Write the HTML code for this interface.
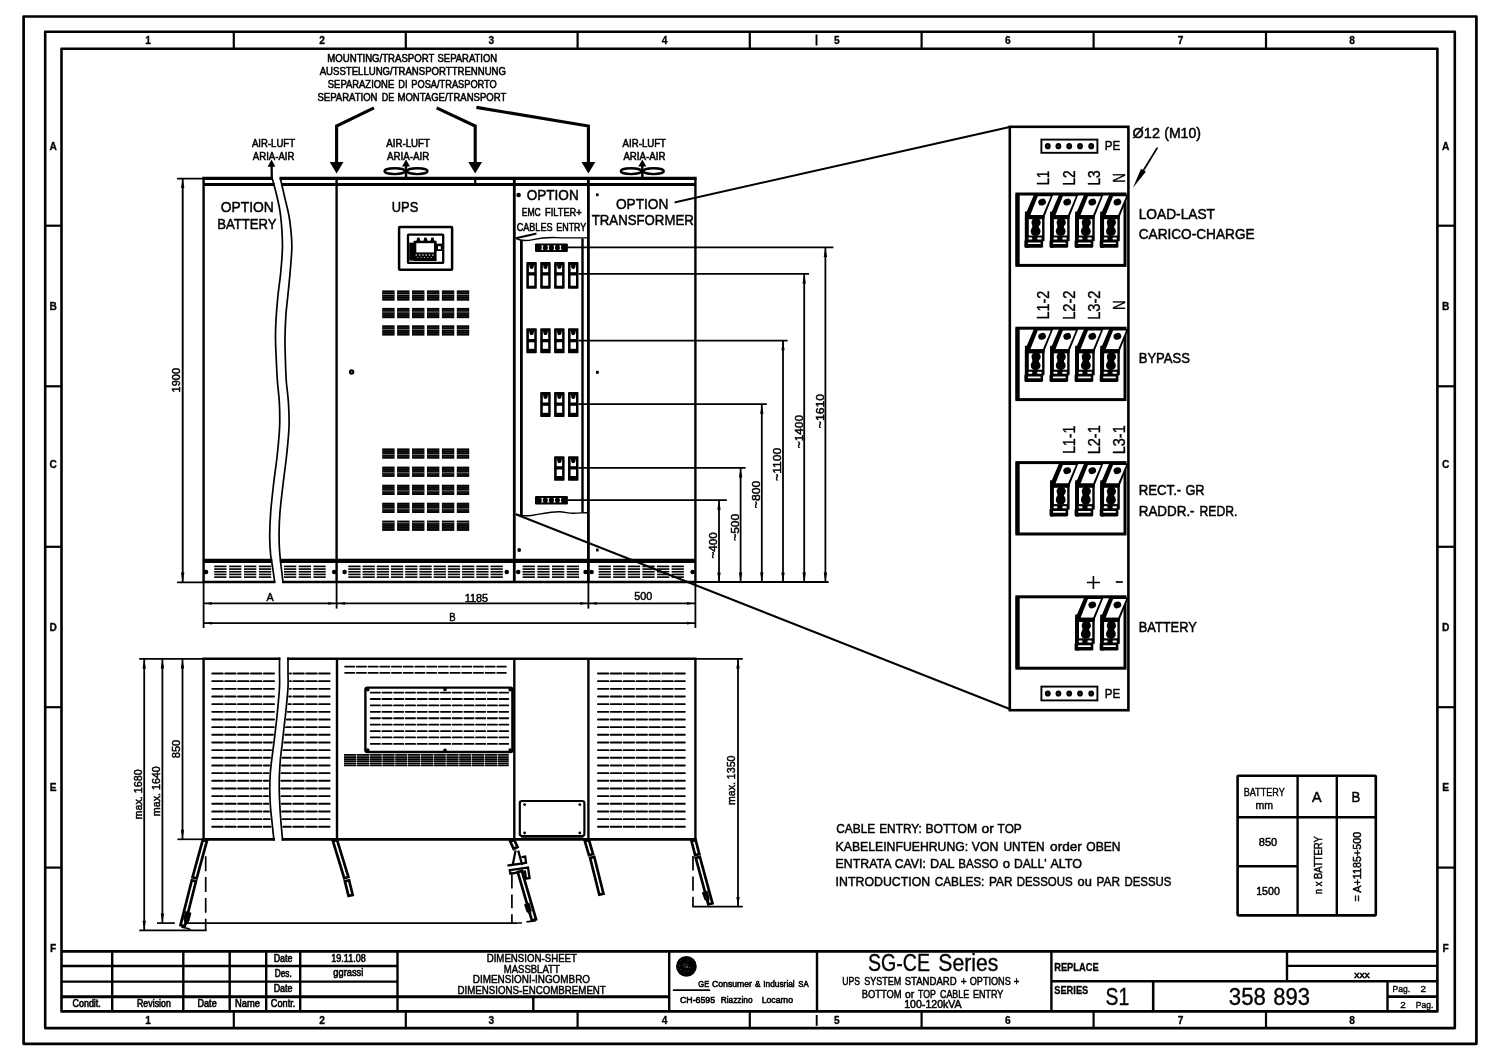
<!DOCTYPE html>
<html lang="en">
<head>
<meta charset="utf-8">
<title>SG-CE Series - Dimension sheet 358 893</title>
<style>
html,body{margin:0;padding:0;background:#fff;}
body{width:1500px;height:1060px;overflow:hidden;}
svg{display:block;will-change:transform;}
svg text{font-family:"Liberation Sans",sans-serif;fill:#000;}
</style>
</head>
<body>
<svg width="1500" height="1060" viewBox="0 0 1500 1060" fill="none" stroke="#000" stroke-linecap="butt" stroke-linejoin="miter">
<rect x="0" y="0" width="1500" height="1060" fill="#fff" stroke="none"/>
<g id="frame" stroke-linejoin="round">
<rect x="23.6" y="16.5" width="1452.8" height="1027.3" fill="none" stroke-width="2.7"/>
<rect x="45.2" y="31.8" width="1409.6" height="996.3" fill="none" stroke-width="2.6"/>
<rect x="61.5" y="48.7" width="1375.9" height="962.7" fill="none" stroke-width="2.6"/>
<line x1="233.8" y1="31.9" x2="233.8" y2="48.8" stroke-width="2.2"/>
<line x1="233.8" y1="1011.4" x2="233.8" y2="1028.1" stroke-width="2.2"/>
<line x1="405.8" y1="31.9" x2="405.8" y2="48.8" stroke-width="2.2"/>
<line x1="405.8" y1="1011.4" x2="405.8" y2="1028.1" stroke-width="2.2"/>
<line x1="577.6" y1="31.9" x2="577.6" y2="48.8" stroke-width="2.2"/>
<line x1="577.6" y1="1011.4" x2="577.6" y2="1028.1" stroke-width="2.2"/>
<line x1="749.8" y1="31.9" x2="749.8" y2="48.8" stroke-width="2.2"/>
<line x1="749.8" y1="1011.4" x2="749.8" y2="1028.1" stroke-width="2.2"/>
<line x1="921.6" y1="31.9" x2="921.6" y2="48.8" stroke-width="2.2"/>
<line x1="921.6" y1="1011.4" x2="921.6" y2="1028.1" stroke-width="2.2"/>
<line x1="1093.6" y1="31.9" x2="1093.6" y2="48.8" stroke-width="2.2"/>
<line x1="1093.6" y1="1011.4" x2="1093.6" y2="1028.1" stroke-width="2.2"/>
<line x1="1266" y1="31.9" x2="1266" y2="48.8" stroke-width="2.2"/>
<line x1="1266" y1="1011.4" x2="1266" y2="1028.1" stroke-width="2.2"/>
<line x1="816.5" y1="34.5" x2="816.5" y2="45.5" stroke-width="1.9"/>
<line x1="816.7" y1="1015" x2="816.7" y2="1025.8" stroke-width="1.9"/>
<line x1="45.2" y1="225.7" x2="61.5" y2="225.7" stroke-width="2.2"/>
<line x1="1437.4" y1="225.7" x2="1454.8" y2="225.7" stroke-width="2.2"/>
<line x1="45.2" y1="386.3" x2="61.5" y2="386.3" stroke-width="2.2"/>
<line x1="1437.4" y1="386.3" x2="1454.8" y2="386.3" stroke-width="2.2"/>
<line x1="45.2" y1="546.8" x2="61.5" y2="546.8" stroke-width="2.2"/>
<line x1="1437.4" y1="546.8" x2="1454.8" y2="546.8" stroke-width="2.2"/>
<line x1="45.2" y1="707.2" x2="61.5" y2="707.2" stroke-width="2.2"/>
<line x1="1437.4" y1="707.2" x2="1454.8" y2="707.2" stroke-width="2.2"/>
<line x1="45.2" y1="867.6" x2="61.5" y2="867.6" stroke-width="2.2"/>
<line x1="1437.4" y1="867.6" x2="1454.8" y2="867.6" stroke-width="2.2"/>
<text x="148.2" y="44.2" font-size="10.2" text-anchor="middle" font-weight="bold" stroke="#000" stroke-width="0.3">1</text>
<text x="148.2" y="1024.1" font-size="10.2" text-anchor="middle" font-weight="bold" stroke="#000" stroke-width="0.3">1</text>
<text x="322.2" y="44.2" font-size="10.2" text-anchor="middle" font-weight="bold" stroke="#000" stroke-width="0.3">2</text>
<text x="322.2" y="1024.1" font-size="10.2" text-anchor="middle" font-weight="bold" stroke="#000" stroke-width="0.3">2</text>
<text x="491.3" y="44.2" font-size="10.2" text-anchor="middle" font-weight="bold" stroke="#000" stroke-width="0.3">3</text>
<text x="491.3" y="1024.1" font-size="10.2" text-anchor="middle" font-weight="bold" stroke="#000" stroke-width="0.3">3</text>
<text x="664.6" y="44.2" font-size="10.2" text-anchor="middle" font-weight="bold" stroke="#000" stroke-width="0.3">4</text>
<text x="664.6" y="1024.1" font-size="10.2" text-anchor="middle" font-weight="bold" stroke="#000" stroke-width="0.3">4</text>
<text x="836.8" y="44.2" font-size="10.2" text-anchor="middle" font-weight="bold" stroke="#000" stroke-width="0.3">5</text>
<text x="836.8" y="1024.1" font-size="10.2" text-anchor="middle" font-weight="bold" stroke="#000" stroke-width="0.3">5</text>
<text x="1007.8" y="44.2" font-size="10.2" text-anchor="middle" font-weight="bold" stroke="#000" stroke-width="0.3">6</text>
<text x="1007.8" y="1024.1" font-size="10.2" text-anchor="middle" font-weight="bold" stroke="#000" stroke-width="0.3">6</text>
<text x="1180.6" y="44.2" font-size="10.2" text-anchor="middle" font-weight="bold" stroke="#000" stroke-width="0.3">7</text>
<text x="1180.6" y="1024.1" font-size="10.2" text-anchor="middle" font-weight="bold" stroke="#000" stroke-width="0.3">7</text>
<text x="1352" y="44.2" font-size="10.2" text-anchor="middle" font-weight="bold" stroke="#000" stroke-width="0.3">8</text>
<text x="1352" y="1024.1" font-size="10.2" text-anchor="middle" font-weight="bold" stroke="#000" stroke-width="0.3">8</text>
<text x="53.2" y="150.2" font-size="10.2" text-anchor="middle" font-weight="bold" stroke="#000" stroke-width="0.3">A</text>
<text x="1445.6" y="150.2" font-size="10.2" text-anchor="middle" font-weight="bold" stroke="#000" stroke-width="0.3">A</text>
<text x="53.2" y="310.4" font-size="10.2" text-anchor="middle" font-weight="bold" stroke="#000" stroke-width="0.3">B</text>
<text x="1445.6" y="310.4" font-size="10.2" text-anchor="middle" font-weight="bold" stroke="#000" stroke-width="0.3">B</text>
<text x="53.2" y="467.8" font-size="10.2" text-anchor="middle" font-weight="bold" stroke="#000" stroke-width="0.3">C</text>
<text x="1445.6" y="467.8" font-size="10.2" text-anchor="middle" font-weight="bold" stroke="#000" stroke-width="0.3">C</text>
<text x="53.2" y="631" font-size="10.2" text-anchor="middle" font-weight="bold" stroke="#000" stroke-width="0.3">D</text>
<text x="1445.6" y="631" font-size="10.2" text-anchor="middle" font-weight="bold" stroke="#000" stroke-width="0.3">D</text>
<text x="53.2" y="790.6" font-size="10.2" text-anchor="middle" font-weight="bold" stroke="#000" stroke-width="0.3">E</text>
<text x="1445.6" y="790.6" font-size="10.2" text-anchor="middle" font-weight="bold" stroke="#000" stroke-width="0.3">E</text>
<text x="53.2" y="951.6" font-size="10.2" text-anchor="middle" font-weight="bold" stroke="#000" stroke-width="0.3">F</text>
<text x="1445.6" y="951.6" font-size="10.2" text-anchor="middle" font-weight="bold" stroke="#000" stroke-width="0.3">F</text>
</g>
<g id="titleblock">
<line x1="61.5" y1="951.4" x2="1437.4" y2="951.4" stroke-width="2.6"/>
<line x1="61.5" y1="966" x2="397.5" y2="966" stroke-width="2.3"/>
<line x1="61.5" y1="981.6" x2="397.5" y2="981.6" stroke-width="2.3"/>
<line x1="61.5" y1="996.8" x2="669.2" y2="996.8" stroke-width="2.9"/>
<line x1="112.2" y1="951.4" x2="112.2" y2="1011.4" stroke-width="2.4"/>
<line x1="183.3" y1="951.4" x2="183.3" y2="1011.4" stroke-width="2.4"/>
<line x1="229.7" y1="951.4" x2="229.7" y2="1011.4" stroke-width="2.4"/>
<line x1="266.2" y1="951.4" x2="266.2" y2="1011.4" stroke-width="2.4"/>
<line x1="300.2" y1="951.4" x2="300.2" y2="1011.4" stroke-width="2.4"/>
<line x1="397.5" y1="951.4" x2="397.5" y2="1011.4" stroke-width="2.4"/>
<line x1="533.3" y1="996.8" x2="533.3" y2="1011.4" stroke-width="2.4"/>
<line x1="669.2" y1="951.4" x2="669.2" y2="1011.4" stroke-width="2.4"/>
<line x1="817" y1="951.4" x2="817" y2="1011.4" stroke-width="2.4"/>
<line x1="1051.4" y1="951.4" x2="1051.4" y2="1011.4" stroke-width="2.4"/>
<line x1="1051.4" y1="981.2" x2="1437.4" y2="981.2" stroke-width="2.4"/>
<line x1="1153.2" y1="981.2" x2="1153.2" y2="1011.4" stroke-width="2.6"/>
<line x1="1287" y1="951.4" x2="1287" y2="981.2" stroke-width="2.4"/>
<line x1="1287" y1="965.8" x2="1437.4" y2="965.8" stroke-width="2.3"/>
<line x1="1387.5" y1="981.2" x2="1387.5" y2="1011.4" stroke-width="2.4"/>
<line x1="1387.5" y1="996.6" x2="1437.4" y2="996.6" stroke-width="2.9"/>
<text x="72.5" y="1007.3" font-size="10" textLength="28.3" lengthAdjust="spacingAndGlyphs" stroke="#000" stroke-width="0.6">Condit.</text>
<text x="137" y="1007.3" font-size="10" textLength="33.8" lengthAdjust="spacingAndGlyphs" stroke="#000" stroke-width="0.6">Revision</text>
<text x="197.5" y="1007.3" font-size="10" textLength="19.2" lengthAdjust="spacingAndGlyphs" stroke="#000" stroke-width="0.6">Date</text>
<text x="235" y="1007.3" font-size="10" textLength="25" lengthAdjust="spacingAndGlyphs" stroke="#000" stroke-width="0.6">Name</text>
<text x="270.8" y="1007.3" font-size="10" textLength="24.5" lengthAdjust="spacingAndGlyphs" stroke="#000" stroke-width="0.6">Contr.</text>
<text x="273.7" y="961.7" font-size="10" textLength="18.8" lengthAdjust="spacingAndGlyphs" stroke="#000" stroke-width="0.6">Date</text>
<text x="274.7" y="976.8" font-size="10" textLength="17" lengthAdjust="spacingAndGlyphs" stroke="#000" stroke-width="0.6">Des.</text>
<text x="273.7" y="991.8" font-size="10" textLength="18.8" lengthAdjust="spacingAndGlyphs" stroke="#000" stroke-width="0.6">Date</text>
<text x="331.3" y="961.7" font-size="10" textLength="34.5" lengthAdjust="spacingAndGlyphs" stroke="#000" stroke-width="0.6">19.11.08</text>
<text x="333.3" y="976.2" font-size="10" textLength="30" lengthAdjust="spacingAndGlyphs" stroke="#000" stroke-width="0.6">ggrassi</text>
<text x="486.7" y="961.7" font-size="10.9" textLength="90.3" lengthAdjust="spacingAndGlyphs" stroke="#000" stroke-width="0.5">DIMENSION-SHEET</text>
<text x="503.8" y="972.5" font-size="10.9" textLength="55.9" lengthAdjust="spacingAndGlyphs" stroke="#000" stroke-width="0.5">MASSBLATT</text>
<text x="472.8" y="983.3" font-size="10.9" textLength="117.2" lengthAdjust="spacingAndGlyphs" stroke="#000" stroke-width="0.5">DIMENSIONI-INGOMBRO</text>
<text x="457.5" y="994.2" font-size="10.9" textLength="148.3" lengthAdjust="spacingAndGlyphs" stroke="#000" stroke-width="0.5">DIMENSIONS-ENCOMBREMENT</text>
<circle cx="686.4" cy="966.4" r="10.4" fill="#000" stroke="none"/>
<g fill="#fff" stroke="none">
<circle cx="685.85" cy="967.51" r="0.4" fill-opacity="0.6"/>
<circle cx="686.05" cy="965.92" r="0.4" fill-opacity="0.6"/>
<circle cx="683.48" cy="965.73" r="0.4" fill-opacity="0.6"/>
<circle cx="690.29" cy="967.88" r="0.4" fill-opacity="0.6"/>
<circle cx="689.86" cy="967.23" r="0.4" fill-opacity="0.6"/>
<circle cx="687.07" cy="966.72" r="0.4" fill-opacity="0.6"/>
<circle cx="680.37" cy="969.5" r="0.4" fill-opacity="0.6"/>
<circle cx="687.7" cy="967.68" r="0.4" fill-opacity="0.6"/>
<circle cx="680.99" cy="960.82" r="0.4" fill-opacity="0.6"/>
<circle cx="683.52" cy="964.89" r="0.4" fill-opacity="0.6"/>
<circle cx="686.78" cy="966.34" r="0.4" fill-opacity="0.6"/>
<circle cx="687.9" cy="964.56" r="0.4" fill-opacity="0.6"/>
<circle cx="687" cy="967.16" r="0.4" fill-opacity="0.6"/>
<circle cx="684" cy="972.65" r="0.4" fill-opacity="0.6"/>
<circle cx="688.41" cy="970.72" r="0.4" fill-opacity="0.6"/>
<circle cx="684.44" cy="964.06" r="0.4" fill-opacity="0.6"/>
<circle cx="685.91" cy="966.25" r="0.4" fill-opacity="0.6"/>
<circle cx="687.97" cy="967.02" r="0.4" fill-opacity="0.6"/>
<circle cx="684.91" cy="963.22" r="0.4" fill-opacity="0.6"/>
<circle cx="684.52" cy="970.82" r="0.4" fill-opacity="0.6"/>
<circle cx="684.05" cy="967.11" r="0.4" fill-opacity="0.6"/>
<circle cx="687.98" cy="960.89" r="0.4" fill-opacity="0.6"/>
<circle cx="686.57" cy="971.11" r="0.4" fill-opacity="0.6"/>
<circle cx="679.31" cy="965.27" r="0.4" fill-opacity="0.6"/>
<circle cx="686.1" cy="964.06" r="0.4" fill-opacity="0.6"/>
<circle cx="687.36" cy="966.28" r="0.4" fill-opacity="0.6"/>
</g>
<line x1="673.6" y1="990.2" x2="709.4" y2="990.2" stroke-width="1.8" stroke-linecap="round"/>
<text y="987.3" font-size="9.6" stroke="#000" stroke-width="0.6"><tspan x="698.3" textLength="10.9" lengthAdjust="spacingAndGlyphs">GE</tspan> <tspan x="712" textLength="40" lengthAdjust="spacingAndGlyphs">Consumer</tspan> <tspan x="755" textLength="5.4" lengthAdjust="spacingAndGlyphs">&amp;</tspan> <tspan x="763.3" textLength="31.4" lengthAdjust="spacingAndGlyphs">Indusrial</tspan> <tspan x="798.3" textLength="10.4" lengthAdjust="spacingAndGlyphs">SA</tspan></text>
<text x="680" y="1002.8" font-size="9.6" textLength="35" lengthAdjust="spacingAndGlyphs" stroke="#000" stroke-width="0.6">CH-6595</text>
<text x="720.8" y="1002.8" font-size="9.6" textLength="31.7" lengthAdjust="spacingAndGlyphs" stroke="#000" stroke-width="0.6">Riazzino</text>
<text x="761.7" y="1002.8" font-size="9.6" textLength="31.3" lengthAdjust="spacingAndGlyphs" stroke="#000" stroke-width="0.6">Locarno</text>
<text y="971.3" font-size="23.3" stroke="#000" stroke-width="0.35"><tspan x="868" textLength="62" lengthAdjust="spacingAndGlyphs">SG-CE</tspan> <tspan x="938.3" textLength="60" lengthAdjust="spacingAndGlyphs">Series</tspan></text>
<text y="984.5" font-size="10.9" stroke="#000" stroke-width="0.5"><tspan x="842.2" textLength="17.8" lengthAdjust="spacingAndGlyphs">UPS</tspan> <tspan x="864.2" textLength="37.1" lengthAdjust="spacingAndGlyphs">SYSTEM</tspan> <tspan x="904.7" textLength="52" lengthAdjust="spacingAndGlyphs">STANDARD</tspan> <tspan x="960.8" textLength="5.9" lengthAdjust="spacingAndGlyphs">+</tspan> <tspan x="969.7" textLength="41.1" lengthAdjust="spacingAndGlyphs">OPTIONS</tspan> <tspan x="1013.8" textLength="5.6" lengthAdjust="spacingAndGlyphs">+</tspan></text>
<text y="997.5" font-size="10.9" stroke="#000" stroke-width="0.5"><tspan x="861.7" textLength="40" lengthAdjust="spacingAndGlyphs">BOTTOM</tspan> <tspan x="905" textLength="9.2" lengthAdjust="spacingAndGlyphs">or</tspan> <tspan x="918" textLength="17.8" lengthAdjust="spacingAndGlyphs">TOP</tspan> <tspan x="940" textLength="29.2" lengthAdjust="spacingAndGlyphs">CABLE</tspan> <tspan x="973" textLength="30.3" lengthAdjust="spacingAndGlyphs">ENTRY</tspan></text>
<text x="904.2" y="1008.3" font-size="10.9" textLength="57.5" lengthAdjust="spacingAndGlyphs" stroke="#000" stroke-width="0.5">100-120kVA</text>
<text x="1054.2" y="970.5" font-size="10.6" textLength="44.5" lengthAdjust="spacingAndGlyphs" font-weight="bold" stroke="#000" stroke-width="0.3">REPLACE</text>
<text x="1054.2" y="993.8" font-size="10.6" textLength="34.1" lengthAdjust="spacingAndGlyphs" font-weight="bold" stroke="#000" stroke-width="0.3">SERIES</text>
<text x="1105.5" y="1005" font-size="23.3" textLength="23.7" lengthAdjust="spacingAndGlyphs" stroke="#000" stroke-width="0.35">S1</text>
<text y="1005" font-size="23.3" stroke="#000" stroke-width="0.35"><tspan x="1228.8" textLength="37" lengthAdjust="spacingAndGlyphs">358</tspan> <tspan x="1273.3" textLength="36.7" lengthAdjust="spacingAndGlyphs">893</tspan></text>
<text x="1362" y="978.3" font-size="9.2" text-anchor="middle" textLength="15.5" lengthAdjust="spacingAndGlyphs" stroke="#000" stroke-width="0.55">xxx</text>
<text x="1392.5" y="991.8" font-size="9.8" textLength="17.5" lengthAdjust="spacingAndGlyphs" stroke="#000" stroke-width="0.4">Pag.</text>
<text x="1423.3" y="991.8" font-size="9.8" text-anchor="middle" stroke="#000" stroke-width="0.4">2</text>
<text x="1403" y="1007.5" font-size="9.8" text-anchor="middle" stroke="#000" stroke-width="0.4">2</text>
<text x="1415.8" y="1007.5" font-size="9.8" textLength="17.5" lengthAdjust="spacingAndGlyphs" stroke="#000" stroke-width="0.4">Pag.</text>
</g>
<g id="front">
<line x1="515.8" y1="238.3" x2="1009.7" y2="126.9" stroke-width="2"/>
<line x1="515.8" y1="514.2" x2="1009.7" y2="709" stroke-width="2"/>
<rect x="536.5" y="195" width="138.1" height="41.5" fill="#fff" stroke="none"/>
<line x1="202.35" y1="178.4" x2="273.01" y2="178.4" stroke-width="3.2"/>
<line x1="279.58" y1="178.4" x2="696.65" y2="178.4" stroke-width="3.2"/>
<line x1="203.6" y1="184.5" x2="274.65" y2="184.5" stroke-width="3"/>
<line x1="280.98" y1="184.5" x2="695.4" y2="184.5" stroke-width="3"/>
<line x1="203.6" y1="560.8" x2="272.38" y2="560.8" stroke-width="4.2"/>
<line x1="279.81" y1="560.8" x2="695.4" y2="560.8" stroke-width="4.2"/>
<line x1="202.4" y1="582" x2="275.26" y2="582" stroke-width="2.5"/>
<line x1="282.38" y1="582" x2="696.6" y2="582" stroke-width="2.5"/>
<line x1="203.6" y1="178.4" x2="203.6" y2="582" stroke-width="2.4"/>
<line x1="336.6" y1="178.4" x2="336.6" y2="582" stroke-width="2.4"/>
<line x1="514.3" y1="178.4" x2="514.3" y2="582" stroke-width="2.8"/>
<line x1="588.4" y1="178.4" x2="588.4" y2="582" stroke-width="2.8"/>
<line x1="695.4" y1="178.4" x2="695.4" y2="582" stroke-width="2.4"/>
<line x1="475.2" y1="178.4" x2="475.2" y2="184.5" stroke-width="2.2"/>
<path d="M272 177.6C272.67 180.08 274.67 186.88 276 192.5C277.33 198.12 279.02 205.02 280 211.3C280.98 217.58 281.5 223.92 281.9 230.2C282.3 236.48 282.6 241.93 282.4 249C282.2 256.07 281.45 264.73 280.7 272.6C279.95 280.47 278.68 288.33 277.9 296.2C277.12 304.07 276.4 312.72 276 319.8C275.6 326.88 275.45 332 275.5 338.7C275.55 345.4 275.98 352.95 276.3 360C276.62 367.05 276.88 373.73 277.4 381C277.92 388.27 279.03 395.9 279.4 403.6C279.77 411.3 279.97 418.55 279.6 427.2C279.23 435.85 278.2 446.07 277.2 455.5C276.2 464.93 274.68 474.38 273.6 483.8C272.52 493.22 271.35 503.35 270.7 512C270.05 520.65 269.72 528.62 269.7 535.7C269.68 542.78 270.08 549 270.6 554.5C271.12 560 272.1 563.95 272.8 568.7C273.5 573.45 274.47 580.62 274.8 583" fill="none" stroke-width="1.7"/>
<path d="M280.2 177.6C280.95 180.87 283.23 190.8 284.7 197.2C286.17 203.6 287.9 209.72 289 216C290.1 222.28 290.83 229.4 291.3 234.9C291.77 240.4 292 242.72 291.8 249C291.6 255.28 290.77 264.73 290.1 272.6C289.43 280.47 288.5 289.12 287.8 296.2C287.1 303.28 286.37 308.02 285.9 315.1C285.43 322.18 285.08 331.22 285 338.7C284.92 346.18 285.18 352.95 285.4 360C285.62 367.05 285.78 373.73 286.3 381C286.82 388.27 288.05 395.9 288.5 403.6C288.95 411.3 289.32 418.55 289 427.2C288.68 435.85 287.58 446.07 286.6 455.5C285.62 464.93 284.2 474.38 283.1 483.8C282 493.22 280.67 504.13 280 512C279.33 519.87 279.18 524.7 279.1 531C279.02 537.3 279.12 543.52 279.5 549.8C279.88 556.08 280.8 563.17 281.4 568.7C282 574.23 282.82 580.62 283.1 583" fill="none" stroke-width="1.7"/>
<line x1="214.2" y1="566.4" x2="226.5" y2="566.4" stroke-width="1.65"/>
<line x1="214.2" y1="569.08" x2="226.5" y2="569.08" stroke-width="1.65"/>
<line x1="214.2" y1="571.76" x2="226.5" y2="571.76" stroke-width="1.65"/>
<line x1="214.2" y1="574.44" x2="226.5" y2="574.44" stroke-width="1.65"/>
<line x1="214.2" y1="577.12" x2="226.5" y2="577.12" stroke-width="1.65"/>
<line x1="229.1" y1="566.4" x2="241.4" y2="566.4" stroke-width="1.65"/>
<line x1="229.1" y1="569.08" x2="241.4" y2="569.08" stroke-width="1.65"/>
<line x1="229.1" y1="571.76" x2="241.4" y2="571.76" stroke-width="1.65"/>
<line x1="229.1" y1="574.44" x2="241.4" y2="574.44" stroke-width="1.65"/>
<line x1="229.1" y1="577.12" x2="241.4" y2="577.12" stroke-width="1.65"/>
<line x1="244" y1="566.4" x2="256.3" y2="566.4" stroke-width="1.65"/>
<line x1="244" y1="569.08" x2="256.3" y2="569.08" stroke-width="1.65"/>
<line x1="244" y1="571.76" x2="256.3" y2="571.76" stroke-width="1.65"/>
<line x1="244" y1="574.44" x2="256.3" y2="574.44" stroke-width="1.65"/>
<line x1="244" y1="577.12" x2="256.3" y2="577.12" stroke-width="1.65"/>
<line x1="258.9" y1="566.4" x2="271.2" y2="566.4" stroke-width="1.65"/>
<line x1="258.9" y1="569.08" x2="271.2" y2="569.08" stroke-width="1.65"/>
<line x1="258.9" y1="571.76" x2="271.2" y2="571.76" stroke-width="1.65"/>
<line x1="258.9" y1="574.44" x2="271.2" y2="574.44" stroke-width="1.65"/>
<line x1="258.9" y1="577.12" x2="271.2" y2="577.12" stroke-width="1.65"/>
<line x1="284" y1="566.4" x2="296.3" y2="566.4" stroke-width="1.65"/>
<line x1="284" y1="569.08" x2="296.3" y2="569.08" stroke-width="1.65"/>
<line x1="284" y1="571.76" x2="296.3" y2="571.76" stroke-width="1.65"/>
<line x1="284" y1="574.44" x2="296.3" y2="574.44" stroke-width="1.65"/>
<line x1="284" y1="577.12" x2="296.3" y2="577.12" stroke-width="1.65"/>
<line x1="298.7" y1="566.4" x2="311" y2="566.4" stroke-width="1.65"/>
<line x1="298.7" y1="569.08" x2="311" y2="569.08" stroke-width="1.65"/>
<line x1="298.7" y1="571.76" x2="311" y2="571.76" stroke-width="1.65"/>
<line x1="298.7" y1="574.44" x2="311" y2="574.44" stroke-width="1.65"/>
<line x1="298.7" y1="577.12" x2="311" y2="577.12" stroke-width="1.65"/>
<line x1="313.4" y1="566.4" x2="325.7" y2="566.4" stroke-width="1.65"/>
<line x1="313.4" y1="569.08" x2="325.7" y2="569.08" stroke-width="1.65"/>
<line x1="313.4" y1="571.76" x2="325.7" y2="571.76" stroke-width="1.65"/>
<line x1="313.4" y1="574.44" x2="325.7" y2="574.44" stroke-width="1.65"/>
<line x1="313.4" y1="577.12" x2="325.7" y2="577.12" stroke-width="1.65"/>
<line x1="348.3" y1="566.4" x2="360.6" y2="566.4" stroke-width="1.65"/>
<line x1="348.3" y1="569.08" x2="360.6" y2="569.08" stroke-width="1.65"/>
<line x1="348.3" y1="571.76" x2="360.6" y2="571.76" stroke-width="1.65"/>
<line x1="348.3" y1="574.44" x2="360.6" y2="574.44" stroke-width="1.65"/>
<line x1="348.3" y1="577.12" x2="360.6" y2="577.12" stroke-width="1.65"/>
<line x1="362.52" y1="566.4" x2="374.82" y2="566.4" stroke-width="1.65"/>
<line x1="362.52" y1="569.08" x2="374.82" y2="569.08" stroke-width="1.65"/>
<line x1="362.52" y1="571.76" x2="374.82" y2="571.76" stroke-width="1.65"/>
<line x1="362.52" y1="574.44" x2="374.82" y2="574.44" stroke-width="1.65"/>
<line x1="362.52" y1="577.12" x2="374.82" y2="577.12" stroke-width="1.65"/>
<line x1="376.74" y1="566.4" x2="389.04" y2="566.4" stroke-width="1.65"/>
<line x1="376.74" y1="569.08" x2="389.04" y2="569.08" stroke-width="1.65"/>
<line x1="376.74" y1="571.76" x2="389.04" y2="571.76" stroke-width="1.65"/>
<line x1="376.74" y1="574.44" x2="389.04" y2="574.44" stroke-width="1.65"/>
<line x1="376.74" y1="577.12" x2="389.04" y2="577.12" stroke-width="1.65"/>
<line x1="390.96" y1="566.4" x2="403.26" y2="566.4" stroke-width="1.65"/>
<line x1="390.96" y1="569.08" x2="403.26" y2="569.08" stroke-width="1.65"/>
<line x1="390.96" y1="571.76" x2="403.26" y2="571.76" stroke-width="1.65"/>
<line x1="390.96" y1="574.44" x2="403.26" y2="574.44" stroke-width="1.65"/>
<line x1="390.96" y1="577.12" x2="403.26" y2="577.12" stroke-width="1.65"/>
<line x1="405.18" y1="566.4" x2="417.48" y2="566.4" stroke-width="1.65"/>
<line x1="405.18" y1="569.08" x2="417.48" y2="569.08" stroke-width="1.65"/>
<line x1="405.18" y1="571.76" x2="417.48" y2="571.76" stroke-width="1.65"/>
<line x1="405.18" y1="574.44" x2="417.48" y2="574.44" stroke-width="1.65"/>
<line x1="405.18" y1="577.12" x2="417.48" y2="577.12" stroke-width="1.65"/>
<line x1="419.4" y1="566.4" x2="431.7" y2="566.4" stroke-width="1.65"/>
<line x1="419.4" y1="569.08" x2="431.7" y2="569.08" stroke-width="1.65"/>
<line x1="419.4" y1="571.76" x2="431.7" y2="571.76" stroke-width="1.65"/>
<line x1="419.4" y1="574.44" x2="431.7" y2="574.44" stroke-width="1.65"/>
<line x1="419.4" y1="577.12" x2="431.7" y2="577.12" stroke-width="1.65"/>
<line x1="433.62" y1="566.4" x2="445.92" y2="566.4" stroke-width="1.65"/>
<line x1="433.62" y1="569.08" x2="445.92" y2="569.08" stroke-width="1.65"/>
<line x1="433.62" y1="571.76" x2="445.92" y2="571.76" stroke-width="1.65"/>
<line x1="433.62" y1="574.44" x2="445.92" y2="574.44" stroke-width="1.65"/>
<line x1="433.62" y1="577.12" x2="445.92" y2="577.12" stroke-width="1.65"/>
<line x1="447.84" y1="566.4" x2="460.14" y2="566.4" stroke-width="1.65"/>
<line x1="447.84" y1="569.08" x2="460.14" y2="569.08" stroke-width="1.65"/>
<line x1="447.84" y1="571.76" x2="460.14" y2="571.76" stroke-width="1.65"/>
<line x1="447.84" y1="574.44" x2="460.14" y2="574.44" stroke-width="1.65"/>
<line x1="447.84" y1="577.12" x2="460.14" y2="577.12" stroke-width="1.65"/>
<line x1="462.06" y1="566.4" x2="474.36" y2="566.4" stroke-width="1.65"/>
<line x1="462.06" y1="569.08" x2="474.36" y2="569.08" stroke-width="1.65"/>
<line x1="462.06" y1="571.76" x2="474.36" y2="571.76" stroke-width="1.65"/>
<line x1="462.06" y1="574.44" x2="474.36" y2="574.44" stroke-width="1.65"/>
<line x1="462.06" y1="577.12" x2="474.36" y2="577.12" stroke-width="1.65"/>
<line x1="476.28" y1="566.4" x2="488.58" y2="566.4" stroke-width="1.65"/>
<line x1="476.28" y1="569.08" x2="488.58" y2="569.08" stroke-width="1.65"/>
<line x1="476.28" y1="571.76" x2="488.58" y2="571.76" stroke-width="1.65"/>
<line x1="476.28" y1="574.44" x2="488.58" y2="574.44" stroke-width="1.65"/>
<line x1="476.28" y1="577.12" x2="488.58" y2="577.12" stroke-width="1.65"/>
<line x1="490.5" y1="566.4" x2="502.8" y2="566.4" stroke-width="1.65"/>
<line x1="490.5" y1="569.08" x2="502.8" y2="569.08" stroke-width="1.65"/>
<line x1="490.5" y1="571.76" x2="502.8" y2="571.76" stroke-width="1.65"/>
<line x1="490.5" y1="574.44" x2="502.8" y2="574.44" stroke-width="1.65"/>
<line x1="490.5" y1="577.12" x2="502.8" y2="577.12" stroke-width="1.65"/>
<line x1="522.6" y1="566.4" x2="534.9" y2="566.4" stroke-width="1.65"/>
<line x1="522.6" y1="569.08" x2="534.9" y2="569.08" stroke-width="1.65"/>
<line x1="522.6" y1="571.76" x2="534.9" y2="571.76" stroke-width="1.65"/>
<line x1="522.6" y1="574.44" x2="534.9" y2="574.44" stroke-width="1.65"/>
<line x1="522.6" y1="577.12" x2="534.9" y2="577.12" stroke-width="1.65"/>
<line x1="537.3" y1="566.4" x2="549.6" y2="566.4" stroke-width="1.65"/>
<line x1="537.3" y1="569.08" x2="549.6" y2="569.08" stroke-width="1.65"/>
<line x1="537.3" y1="571.76" x2="549.6" y2="571.76" stroke-width="1.65"/>
<line x1="537.3" y1="574.44" x2="549.6" y2="574.44" stroke-width="1.65"/>
<line x1="537.3" y1="577.12" x2="549.6" y2="577.12" stroke-width="1.65"/>
<line x1="552" y1="566.4" x2="564.3" y2="566.4" stroke-width="1.65"/>
<line x1="552" y1="569.08" x2="564.3" y2="569.08" stroke-width="1.65"/>
<line x1="552" y1="571.76" x2="564.3" y2="571.76" stroke-width="1.65"/>
<line x1="552" y1="574.44" x2="564.3" y2="574.44" stroke-width="1.65"/>
<line x1="552" y1="577.12" x2="564.3" y2="577.12" stroke-width="1.65"/>
<line x1="566.7" y1="566.4" x2="579" y2="566.4" stroke-width="1.65"/>
<line x1="566.7" y1="569.08" x2="579" y2="569.08" stroke-width="1.65"/>
<line x1="566.7" y1="571.76" x2="579" y2="571.76" stroke-width="1.65"/>
<line x1="566.7" y1="574.44" x2="579" y2="574.44" stroke-width="1.65"/>
<line x1="566.7" y1="577.12" x2="579" y2="577.12" stroke-width="1.65"/>
<line x1="598.6" y1="566.4" x2="610.9" y2="566.4" stroke-width="1.65"/>
<line x1="598.6" y1="569.08" x2="610.9" y2="569.08" stroke-width="1.65"/>
<line x1="598.6" y1="571.76" x2="610.9" y2="571.76" stroke-width="1.65"/>
<line x1="598.6" y1="574.44" x2="610.9" y2="574.44" stroke-width="1.65"/>
<line x1="598.6" y1="577.12" x2="610.9" y2="577.12" stroke-width="1.65"/>
<line x1="613.2" y1="566.4" x2="625.5" y2="566.4" stroke-width="1.65"/>
<line x1="613.2" y1="569.08" x2="625.5" y2="569.08" stroke-width="1.65"/>
<line x1="613.2" y1="571.76" x2="625.5" y2="571.76" stroke-width="1.65"/>
<line x1="613.2" y1="574.44" x2="625.5" y2="574.44" stroke-width="1.65"/>
<line x1="613.2" y1="577.12" x2="625.5" y2="577.12" stroke-width="1.65"/>
<line x1="627.8" y1="566.4" x2="640.1" y2="566.4" stroke-width="1.65"/>
<line x1="627.8" y1="569.08" x2="640.1" y2="569.08" stroke-width="1.65"/>
<line x1="627.8" y1="571.76" x2="640.1" y2="571.76" stroke-width="1.65"/>
<line x1="627.8" y1="574.44" x2="640.1" y2="574.44" stroke-width="1.65"/>
<line x1="627.8" y1="577.12" x2="640.1" y2="577.12" stroke-width="1.65"/>
<line x1="642.4" y1="566.4" x2="654.7" y2="566.4" stroke-width="1.65"/>
<line x1="642.4" y1="569.08" x2="654.7" y2="569.08" stroke-width="1.65"/>
<line x1="642.4" y1="571.76" x2="654.7" y2="571.76" stroke-width="1.65"/>
<line x1="642.4" y1="574.44" x2="654.7" y2="574.44" stroke-width="1.65"/>
<line x1="642.4" y1="577.12" x2="654.7" y2="577.12" stroke-width="1.65"/>
<line x1="657" y1="566.4" x2="669.3" y2="566.4" stroke-width="1.65"/>
<line x1="657" y1="569.08" x2="669.3" y2="569.08" stroke-width="1.65"/>
<line x1="657" y1="571.76" x2="669.3" y2="571.76" stroke-width="1.65"/>
<line x1="657" y1="574.44" x2="669.3" y2="574.44" stroke-width="1.65"/>
<line x1="657" y1="577.12" x2="669.3" y2="577.12" stroke-width="1.65"/>
<line x1="671.6" y1="566.4" x2="683.9" y2="566.4" stroke-width="1.65"/>
<line x1="671.6" y1="569.08" x2="683.9" y2="569.08" stroke-width="1.65"/>
<line x1="671.6" y1="571.76" x2="683.9" y2="571.76" stroke-width="1.65"/>
<line x1="671.6" y1="574.44" x2="683.9" y2="574.44" stroke-width="1.65"/>
<line x1="671.6" y1="577.12" x2="683.9" y2="577.12" stroke-width="1.65"/>
<circle cx="206" cy="572" r="2.3" fill="#000" stroke="none"/>
<circle cx="334.2" cy="572" r="2.3" fill="#000" stroke="none"/>
<circle cx="344.6" cy="572" r="2.3" fill="#000" stroke="none"/>
<circle cx="506.8" cy="572" r="2.3" fill="#000" stroke="none"/>
<circle cx="518.2" cy="572" r="2.3" fill="#000" stroke="none"/>
<circle cx="585.6" cy="572" r="2.3" fill="#000" stroke="none"/>
<circle cx="591.6" cy="572" r="2.3" fill="#000" stroke="none"/>
<circle cx="692.6" cy="572" r="2.3" fill="#000" stroke="none"/>
<circle cx="351.6" cy="372" r="2.7" fill="#000" stroke="none"/>
<circle cx="351.6" cy="372" r="0.7" fill="#999" stroke="none"/>
<rect x="399.1" y="227" width="53" height="42.8" fill="none" stroke-width="2.5" rx="0.8"/>
<rect x="408" y="234.6" width="35.2" height="28.3" fill="none" stroke-width="2.3" rx="0.5"/>
<g fill="#000" stroke="none">
<rect x="409.2" y="242.6" width="5.2" height="18" fill="#000" stroke="none"/>
<rect x="413.6" y="240.8" width="23" height="20.2" fill="#000" stroke="none" rx="0.6"/>
<path d="M416.2 241.2 L417.4 237.4 L419.4 237.4 L420.6 241.2Z"/>
<path d="M423.3 241.2 L424.5 237.4 L426.5 237.4 L427.7 241.2Z"/>
<path d="M430.2 241.2 L431.4 237.4 L433.4 237.4 L434.6 241.2Z"/>
<rect x="436" y="243.6" width="6" height="7.4" fill="#000" stroke="none"/>
</g>
<rect x="416.3" y="243.2" width="17.7" height="9.2" fill="#fff" stroke="none"/>
<rect x="438" y="246.2" width="2.8" height="3" fill="#fff" stroke="none"/>
<rect x="415.6" y="254.4" width="1.4" height="1.2" fill="#fff" stroke="none"/>
<rect x="418.9" y="254.4" width="1.4" height="1.2" fill="#fff" stroke="none"/>
<rect x="422.2" y="254.4" width="1.4" height="1.2" fill="#fff" stroke="none"/>
<rect x="425.5" y="254.4" width="1.4" height="1.2" fill="#fff" stroke="none"/>
<rect x="428.8" y="254.4" width="1.4" height="1.2" fill="#fff" stroke="none"/>
<rect x="432.1" y="254.4" width="1.4" height="1.2" fill="#fff" stroke="none"/>
<rect x="417.4" y="257.2" width="0.9" height="0.8" fill="#fff" stroke="none"/>
<rect x="420.7" y="257.2" width="0.9" height="0.8" fill="#fff" stroke="none"/>
<rect x="424" y="257.2" width="0.9" height="0.8" fill="#fff" stroke="none"/>
<rect x="427.3" y="257.2" width="0.9" height="0.8" fill="#fff" stroke="none"/>
<rect x="430.6" y="257.2" width="0.9" height="0.8" fill="#fff" stroke="none"/>
<rect x="382.2" y="290.4" width="12.4" height="10.3" fill="#000" stroke="none"/>
<line x1="382.7" y1="292.46" x2="394.1" y2="292.46" stroke-width="0.3" stroke="#666"/>
<line x1="382.5" y1="294.52" x2="394.3" y2="294.52" stroke-width="0.55" stroke="#ddd"/>
<line x1="382.7" y1="296.58" x2="394.1" y2="296.58" stroke-width="0.3" stroke="#666"/>
<line x1="382.7" y1="298.64" x2="394.1" y2="298.64" stroke-width="0.3" stroke="#666"/>
<rect x="397.12" y="290.4" width="12.4" height="10.3" fill="#000" stroke="none"/>
<line x1="397.62" y1="292.46" x2="409.02" y2="292.46" stroke-width="0.3" stroke="#666"/>
<line x1="397.42" y1="294.52" x2="409.22" y2="294.52" stroke-width="0.55" stroke="#ddd"/>
<line x1="397.62" y1="296.58" x2="409.02" y2="296.58" stroke-width="0.3" stroke="#666"/>
<line x1="397.62" y1="298.64" x2="409.02" y2="298.64" stroke-width="0.3" stroke="#666"/>
<rect x="412.04" y="290.4" width="12.4" height="10.3" fill="#000" stroke="none"/>
<line x1="412.54" y1="292.46" x2="423.94" y2="292.46" stroke-width="0.3" stroke="#666"/>
<line x1="412.34" y1="294.52" x2="424.14" y2="294.52" stroke-width="0.55" stroke="#ddd"/>
<line x1="412.54" y1="296.58" x2="423.94" y2="296.58" stroke-width="0.3" stroke="#666"/>
<line x1="412.54" y1="298.64" x2="423.94" y2="298.64" stroke-width="0.3" stroke="#666"/>
<rect x="426.96" y="290.4" width="12.4" height="10.3" fill="#000" stroke="none"/>
<line x1="427.46" y1="292.46" x2="438.86" y2="292.46" stroke-width="0.3" stroke="#666"/>
<line x1="427.26" y1="294.52" x2="439.06" y2="294.52" stroke-width="0.55" stroke="#ddd"/>
<line x1="427.46" y1="296.58" x2="438.86" y2="296.58" stroke-width="0.3" stroke="#666"/>
<line x1="427.46" y1="298.64" x2="438.86" y2="298.64" stroke-width="0.3" stroke="#666"/>
<rect x="441.88" y="290.4" width="12.4" height="10.3" fill="#000" stroke="none"/>
<line x1="442.38" y1="292.46" x2="453.78" y2="292.46" stroke-width="0.3" stroke="#666"/>
<line x1="442.18" y1="294.52" x2="453.98" y2="294.52" stroke-width="0.55" stroke="#ddd"/>
<line x1="442.38" y1="296.58" x2="453.78" y2="296.58" stroke-width="0.3" stroke="#666"/>
<line x1="442.38" y1="298.64" x2="453.78" y2="298.64" stroke-width="0.3" stroke="#666"/>
<rect x="456.8" y="290.4" width="12.4" height="10.3" fill="#000" stroke="none"/>
<line x1="457.3" y1="292.46" x2="468.7" y2="292.46" stroke-width="0.3" stroke="#666"/>
<line x1="457.1" y1="294.52" x2="468.9" y2="294.52" stroke-width="0.55" stroke="#ddd"/>
<line x1="457.3" y1="296.58" x2="468.7" y2="296.58" stroke-width="0.3" stroke="#666"/>
<line x1="457.3" y1="298.64" x2="468.7" y2="298.64" stroke-width="0.3" stroke="#666"/>
<rect x="382.2" y="307.9" width="12.4" height="10.3" fill="#000" stroke="none"/>
<line x1="382.7" y1="309.96" x2="394.1" y2="309.96" stroke-width="0.3" stroke="#666"/>
<line x1="382.5" y1="312.02" x2="394.3" y2="312.02" stroke-width="0.55" stroke="#ddd"/>
<line x1="382.7" y1="314.08" x2="394.1" y2="314.08" stroke-width="0.3" stroke="#666"/>
<line x1="382.7" y1="316.14" x2="394.1" y2="316.14" stroke-width="0.3" stroke="#666"/>
<rect x="397.12" y="307.9" width="12.4" height="10.3" fill="#000" stroke="none"/>
<line x1="397.62" y1="309.96" x2="409.02" y2="309.96" stroke-width="0.3" stroke="#666"/>
<line x1="397.42" y1="312.02" x2="409.22" y2="312.02" stroke-width="0.55" stroke="#ddd"/>
<line x1="397.62" y1="314.08" x2="409.02" y2="314.08" stroke-width="0.3" stroke="#666"/>
<line x1="397.62" y1="316.14" x2="409.02" y2="316.14" stroke-width="0.3" stroke="#666"/>
<rect x="412.04" y="307.9" width="12.4" height="10.3" fill="#000" stroke="none"/>
<line x1="412.54" y1="309.96" x2="423.94" y2="309.96" stroke-width="0.3" stroke="#666"/>
<line x1="412.34" y1="312.02" x2="424.14" y2="312.02" stroke-width="0.55" stroke="#ddd"/>
<line x1="412.54" y1="314.08" x2="423.94" y2="314.08" stroke-width="0.3" stroke="#666"/>
<line x1="412.54" y1="316.14" x2="423.94" y2="316.14" stroke-width="0.3" stroke="#666"/>
<rect x="426.96" y="307.9" width="12.4" height="10.3" fill="#000" stroke="none"/>
<line x1="427.46" y1="309.96" x2="438.86" y2="309.96" stroke-width="0.3" stroke="#666"/>
<line x1="427.26" y1="312.02" x2="439.06" y2="312.02" stroke-width="0.55" stroke="#ddd"/>
<line x1="427.46" y1="314.08" x2="438.86" y2="314.08" stroke-width="0.3" stroke="#666"/>
<line x1="427.46" y1="316.14" x2="438.86" y2="316.14" stroke-width="0.3" stroke="#666"/>
<rect x="441.88" y="307.9" width="12.4" height="10.3" fill="#000" stroke="none"/>
<line x1="442.38" y1="309.96" x2="453.78" y2="309.96" stroke-width="0.3" stroke="#666"/>
<line x1="442.18" y1="312.02" x2="453.98" y2="312.02" stroke-width="0.55" stroke="#ddd"/>
<line x1="442.38" y1="314.08" x2="453.78" y2="314.08" stroke-width="0.3" stroke="#666"/>
<line x1="442.38" y1="316.14" x2="453.78" y2="316.14" stroke-width="0.3" stroke="#666"/>
<rect x="456.8" y="307.9" width="12.4" height="10.3" fill="#000" stroke="none"/>
<line x1="457.3" y1="309.96" x2="468.7" y2="309.96" stroke-width="0.3" stroke="#666"/>
<line x1="457.1" y1="312.02" x2="468.9" y2="312.02" stroke-width="0.55" stroke="#ddd"/>
<line x1="457.3" y1="314.08" x2="468.7" y2="314.08" stroke-width="0.3" stroke="#666"/>
<line x1="457.3" y1="316.14" x2="468.7" y2="316.14" stroke-width="0.3" stroke="#666"/>
<rect x="382.2" y="325.3" width="12.4" height="10.3" fill="#000" stroke="none"/>
<line x1="382.7" y1="327.36" x2="394.1" y2="327.36" stroke-width="0.3" stroke="#666"/>
<line x1="382.5" y1="329.42" x2="394.3" y2="329.42" stroke-width="0.55" stroke="#ddd"/>
<line x1="382.7" y1="331.48" x2="394.1" y2="331.48" stroke-width="0.3" stroke="#666"/>
<line x1="382.7" y1="333.54" x2="394.1" y2="333.54" stroke-width="0.3" stroke="#666"/>
<rect x="397.12" y="325.3" width="12.4" height="10.3" fill="#000" stroke="none"/>
<line x1="397.62" y1="327.36" x2="409.02" y2="327.36" stroke-width="0.3" stroke="#666"/>
<line x1="397.42" y1="329.42" x2="409.22" y2="329.42" stroke-width="0.55" stroke="#ddd"/>
<line x1="397.62" y1="331.48" x2="409.02" y2="331.48" stroke-width="0.3" stroke="#666"/>
<line x1="397.62" y1="333.54" x2="409.02" y2="333.54" stroke-width="0.3" stroke="#666"/>
<rect x="412.04" y="325.3" width="12.4" height="10.3" fill="#000" stroke="none"/>
<line x1="412.54" y1="327.36" x2="423.94" y2="327.36" stroke-width="0.3" stroke="#666"/>
<line x1="412.34" y1="329.42" x2="424.14" y2="329.42" stroke-width="0.55" stroke="#ddd"/>
<line x1="412.54" y1="331.48" x2="423.94" y2="331.48" stroke-width="0.3" stroke="#666"/>
<line x1="412.54" y1="333.54" x2="423.94" y2="333.54" stroke-width="0.3" stroke="#666"/>
<rect x="426.96" y="325.3" width="12.4" height="10.3" fill="#000" stroke="none"/>
<line x1="427.46" y1="327.36" x2="438.86" y2="327.36" stroke-width="0.3" stroke="#666"/>
<line x1="427.26" y1="329.42" x2="439.06" y2="329.42" stroke-width="0.55" stroke="#ddd"/>
<line x1="427.46" y1="331.48" x2="438.86" y2="331.48" stroke-width="0.3" stroke="#666"/>
<line x1="427.46" y1="333.54" x2="438.86" y2="333.54" stroke-width="0.3" stroke="#666"/>
<rect x="441.88" y="325.3" width="12.4" height="10.3" fill="#000" stroke="none"/>
<line x1="442.38" y1="327.36" x2="453.78" y2="327.36" stroke-width="0.3" stroke="#666"/>
<line x1="442.18" y1="329.42" x2="453.98" y2="329.42" stroke-width="0.55" stroke="#ddd"/>
<line x1="442.38" y1="331.48" x2="453.78" y2="331.48" stroke-width="0.3" stroke="#666"/>
<line x1="442.38" y1="333.54" x2="453.78" y2="333.54" stroke-width="0.3" stroke="#666"/>
<rect x="456.8" y="325.3" width="12.4" height="10.3" fill="#000" stroke="none"/>
<line x1="457.3" y1="327.36" x2="468.7" y2="327.36" stroke-width="0.3" stroke="#666"/>
<line x1="457.1" y1="329.42" x2="468.9" y2="329.42" stroke-width="0.55" stroke="#ddd"/>
<line x1="457.3" y1="331.48" x2="468.7" y2="331.48" stroke-width="0.3" stroke="#666"/>
<line x1="457.3" y1="333.54" x2="468.7" y2="333.54" stroke-width="0.3" stroke="#666"/>
<rect x="382.2" y="448.4" width="12.4" height="10.3" fill="#000" stroke="none"/>
<line x1="382.7" y1="450.46" x2="394.1" y2="450.46" stroke-width="0.3" stroke="#666"/>
<line x1="382.7" y1="452.52" x2="394.1" y2="452.52" stroke-width="0.3" stroke="#666"/>
<line x1="382.5" y1="454.58" x2="394.3" y2="454.58" stroke-width="0.55" stroke="#ddd"/>
<line x1="382.7" y1="456.64" x2="394.1" y2="456.64" stroke-width="0.3" stroke="#666"/>
<rect x="397.12" y="448.4" width="12.4" height="10.3" fill="#000" stroke="none"/>
<line x1="397.62" y1="450.46" x2="409.02" y2="450.46" stroke-width="0.3" stroke="#666"/>
<line x1="397.62" y1="452.52" x2="409.02" y2="452.52" stroke-width="0.3" stroke="#666"/>
<line x1="397.42" y1="454.58" x2="409.22" y2="454.58" stroke-width="0.55" stroke="#ddd"/>
<line x1="397.62" y1="456.64" x2="409.02" y2="456.64" stroke-width="0.3" stroke="#666"/>
<rect x="412.04" y="448.4" width="12.4" height="10.3" fill="#000" stroke="none"/>
<line x1="412.54" y1="450.46" x2="423.94" y2="450.46" stroke-width="0.3" stroke="#666"/>
<line x1="412.54" y1="452.52" x2="423.94" y2="452.52" stroke-width="0.3" stroke="#666"/>
<line x1="412.34" y1="454.58" x2="424.14" y2="454.58" stroke-width="0.55" stroke="#ddd"/>
<line x1="412.54" y1="456.64" x2="423.94" y2="456.64" stroke-width="0.3" stroke="#666"/>
<rect x="426.96" y="448.4" width="12.4" height="10.3" fill="#000" stroke="none"/>
<line x1="427.46" y1="450.46" x2="438.86" y2="450.46" stroke-width="0.3" stroke="#666"/>
<line x1="427.46" y1="452.52" x2="438.86" y2="452.52" stroke-width="0.3" stroke="#666"/>
<line x1="427.26" y1="454.58" x2="439.06" y2="454.58" stroke-width="0.55" stroke="#ddd"/>
<line x1="427.46" y1="456.64" x2="438.86" y2="456.64" stroke-width="0.3" stroke="#666"/>
<rect x="441.88" y="448.4" width="12.4" height="10.3" fill="#000" stroke="none"/>
<line x1="442.38" y1="450.46" x2="453.78" y2="450.46" stroke-width="0.3" stroke="#666"/>
<line x1="442.38" y1="452.52" x2="453.78" y2="452.52" stroke-width="0.3" stroke="#666"/>
<line x1="442.18" y1="454.58" x2="453.98" y2="454.58" stroke-width="0.55" stroke="#ddd"/>
<line x1="442.38" y1="456.64" x2="453.78" y2="456.64" stroke-width="0.3" stroke="#666"/>
<rect x="456.8" y="448.4" width="12.4" height="10.3" fill="#000" stroke="none"/>
<line x1="457.3" y1="450.46" x2="468.7" y2="450.46" stroke-width="0.3" stroke="#666"/>
<line x1="457.3" y1="452.52" x2="468.7" y2="452.52" stroke-width="0.3" stroke="#666"/>
<line x1="457.1" y1="454.58" x2="468.9" y2="454.58" stroke-width="0.55" stroke="#ddd"/>
<line x1="457.3" y1="456.64" x2="468.7" y2="456.64" stroke-width="0.3" stroke="#666"/>
<rect x="382.2" y="466.6" width="12.4" height="10.3" fill="#000" stroke="none"/>
<line x1="382.7" y1="468.66" x2="394.1" y2="468.66" stroke-width="0.3" stroke="#666"/>
<line x1="382.7" y1="470.72" x2="394.1" y2="470.72" stroke-width="0.3" stroke="#666"/>
<line x1="382.5" y1="472.78" x2="394.3" y2="472.78" stroke-width="0.55" stroke="#ddd"/>
<line x1="382.7" y1="474.84" x2="394.1" y2="474.84" stroke-width="0.3" stroke="#666"/>
<rect x="397.12" y="466.6" width="12.4" height="10.3" fill="#000" stroke="none"/>
<line x1="397.62" y1="468.66" x2="409.02" y2="468.66" stroke-width="0.3" stroke="#666"/>
<line x1="397.62" y1="470.72" x2="409.02" y2="470.72" stroke-width="0.3" stroke="#666"/>
<line x1="397.42" y1="472.78" x2="409.22" y2="472.78" stroke-width="0.55" stroke="#ddd"/>
<line x1="397.62" y1="474.84" x2="409.02" y2="474.84" stroke-width="0.3" stroke="#666"/>
<rect x="412.04" y="466.6" width="12.4" height="10.3" fill="#000" stroke="none"/>
<line x1="412.54" y1="468.66" x2="423.94" y2="468.66" stroke-width="0.3" stroke="#666"/>
<line x1="412.54" y1="470.72" x2="423.94" y2="470.72" stroke-width="0.3" stroke="#666"/>
<line x1="412.34" y1="472.78" x2="424.14" y2="472.78" stroke-width="0.55" stroke="#ddd"/>
<line x1="412.54" y1="474.84" x2="423.94" y2="474.84" stroke-width="0.3" stroke="#666"/>
<rect x="426.96" y="466.6" width="12.4" height="10.3" fill="#000" stroke="none"/>
<line x1="427.46" y1="468.66" x2="438.86" y2="468.66" stroke-width="0.3" stroke="#666"/>
<line x1="427.46" y1="470.72" x2="438.86" y2="470.72" stroke-width="0.3" stroke="#666"/>
<line x1="427.26" y1="472.78" x2="439.06" y2="472.78" stroke-width="0.55" stroke="#ddd"/>
<line x1="427.46" y1="474.84" x2="438.86" y2="474.84" stroke-width="0.3" stroke="#666"/>
<rect x="441.88" y="466.6" width="12.4" height="10.3" fill="#000" stroke="none"/>
<line x1="442.38" y1="468.66" x2="453.78" y2="468.66" stroke-width="0.3" stroke="#666"/>
<line x1="442.38" y1="470.72" x2="453.78" y2="470.72" stroke-width="0.3" stroke="#666"/>
<line x1="442.18" y1="472.78" x2="453.98" y2="472.78" stroke-width="0.55" stroke="#ddd"/>
<line x1="442.38" y1="474.84" x2="453.78" y2="474.84" stroke-width="0.3" stroke="#666"/>
<rect x="456.8" y="466.6" width="12.4" height="10.3" fill="#000" stroke="none"/>
<line x1="457.3" y1="468.66" x2="468.7" y2="468.66" stroke-width="0.3" stroke="#666"/>
<line x1="457.3" y1="470.72" x2="468.7" y2="470.72" stroke-width="0.3" stroke="#666"/>
<line x1="457.1" y1="472.78" x2="468.9" y2="472.78" stroke-width="0.55" stroke="#ddd"/>
<line x1="457.3" y1="474.84" x2="468.7" y2="474.84" stroke-width="0.3" stroke="#666"/>
<rect x="382.2" y="484.7" width="12.4" height="10.3" fill="#000" stroke="none"/>
<line x1="382.7" y1="486.76" x2="394.1" y2="486.76" stroke-width="0.3" stroke="#666"/>
<line x1="382.7" y1="488.82" x2="394.1" y2="488.82" stroke-width="0.3" stroke="#666"/>
<line x1="382.5" y1="490.88" x2="394.3" y2="490.88" stroke-width="0.55" stroke="#ddd"/>
<line x1="382.7" y1="492.94" x2="394.1" y2="492.94" stroke-width="0.3" stroke="#666"/>
<rect x="397.12" y="484.7" width="12.4" height="10.3" fill="#000" stroke="none"/>
<line x1="397.62" y1="486.76" x2="409.02" y2="486.76" stroke-width="0.3" stroke="#666"/>
<line x1="397.62" y1="488.82" x2="409.02" y2="488.82" stroke-width="0.3" stroke="#666"/>
<line x1="397.42" y1="490.88" x2="409.22" y2="490.88" stroke-width="0.55" stroke="#ddd"/>
<line x1="397.62" y1="492.94" x2="409.02" y2="492.94" stroke-width="0.3" stroke="#666"/>
<rect x="412.04" y="484.7" width="12.4" height="10.3" fill="#000" stroke="none"/>
<line x1="412.54" y1="486.76" x2="423.94" y2="486.76" stroke-width="0.3" stroke="#666"/>
<line x1="412.54" y1="488.82" x2="423.94" y2="488.82" stroke-width="0.3" stroke="#666"/>
<line x1="412.34" y1="490.88" x2="424.14" y2="490.88" stroke-width="0.55" stroke="#ddd"/>
<line x1="412.54" y1="492.94" x2="423.94" y2="492.94" stroke-width="0.3" stroke="#666"/>
<rect x="426.96" y="484.7" width="12.4" height="10.3" fill="#000" stroke="none"/>
<line x1="427.46" y1="486.76" x2="438.86" y2="486.76" stroke-width="0.3" stroke="#666"/>
<line x1="427.46" y1="488.82" x2="438.86" y2="488.82" stroke-width="0.3" stroke="#666"/>
<line x1="427.26" y1="490.88" x2="439.06" y2="490.88" stroke-width="0.55" stroke="#ddd"/>
<line x1="427.46" y1="492.94" x2="438.86" y2="492.94" stroke-width="0.3" stroke="#666"/>
<rect x="441.88" y="484.7" width="12.4" height="10.3" fill="#000" stroke="none"/>
<line x1="442.38" y1="486.76" x2="453.78" y2="486.76" stroke-width="0.3" stroke="#666"/>
<line x1="442.38" y1="488.82" x2="453.78" y2="488.82" stroke-width="0.3" stroke="#666"/>
<line x1="442.18" y1="490.88" x2="453.98" y2="490.88" stroke-width="0.55" stroke="#ddd"/>
<line x1="442.38" y1="492.94" x2="453.78" y2="492.94" stroke-width="0.3" stroke="#666"/>
<rect x="456.8" y="484.7" width="12.4" height="10.3" fill="#000" stroke="none"/>
<line x1="457.3" y1="486.76" x2="468.7" y2="486.76" stroke-width="0.3" stroke="#666"/>
<line x1="457.3" y1="488.82" x2="468.7" y2="488.82" stroke-width="0.3" stroke="#666"/>
<line x1="457.1" y1="490.88" x2="468.9" y2="490.88" stroke-width="0.55" stroke="#ddd"/>
<line x1="457.3" y1="492.94" x2="468.7" y2="492.94" stroke-width="0.3" stroke="#666"/>
<rect x="382.2" y="502.7" width="12.4" height="10.3" fill="#000" stroke="none"/>
<line x1="382.7" y1="504.76" x2="394.1" y2="504.76" stroke-width="0.3" stroke="#666"/>
<line x1="382.7" y1="506.82" x2="394.1" y2="506.82" stroke-width="0.3" stroke="#666"/>
<line x1="382.5" y1="508.88" x2="394.3" y2="508.88" stroke-width="0.55" stroke="#ddd"/>
<line x1="382.7" y1="510.94" x2="394.1" y2="510.94" stroke-width="0.3" stroke="#666"/>
<rect x="397.12" y="502.7" width="12.4" height="10.3" fill="#000" stroke="none"/>
<line x1="397.62" y1="504.76" x2="409.02" y2="504.76" stroke-width="0.3" stroke="#666"/>
<line x1="397.62" y1="506.82" x2="409.02" y2="506.82" stroke-width="0.3" stroke="#666"/>
<line x1="397.42" y1="508.88" x2="409.22" y2="508.88" stroke-width="0.55" stroke="#ddd"/>
<line x1="397.62" y1="510.94" x2="409.02" y2="510.94" stroke-width="0.3" stroke="#666"/>
<rect x="412.04" y="502.7" width="12.4" height="10.3" fill="#000" stroke="none"/>
<line x1="412.54" y1="504.76" x2="423.94" y2="504.76" stroke-width="0.3" stroke="#666"/>
<line x1="412.54" y1="506.82" x2="423.94" y2="506.82" stroke-width="0.3" stroke="#666"/>
<line x1="412.34" y1="508.88" x2="424.14" y2="508.88" stroke-width="0.55" stroke="#ddd"/>
<line x1="412.54" y1="510.94" x2="423.94" y2="510.94" stroke-width="0.3" stroke="#666"/>
<rect x="426.96" y="502.7" width="12.4" height="10.3" fill="#000" stroke="none"/>
<line x1="427.46" y1="504.76" x2="438.86" y2="504.76" stroke-width="0.3" stroke="#666"/>
<line x1="427.46" y1="506.82" x2="438.86" y2="506.82" stroke-width="0.3" stroke="#666"/>
<line x1="427.26" y1="508.88" x2="439.06" y2="508.88" stroke-width="0.55" stroke="#ddd"/>
<line x1="427.46" y1="510.94" x2="438.86" y2="510.94" stroke-width="0.3" stroke="#666"/>
<rect x="441.88" y="502.7" width="12.4" height="10.3" fill="#000" stroke="none"/>
<line x1="442.38" y1="504.76" x2="453.78" y2="504.76" stroke-width="0.3" stroke="#666"/>
<line x1="442.38" y1="506.82" x2="453.78" y2="506.82" stroke-width="0.3" stroke="#666"/>
<line x1="442.18" y1="508.88" x2="453.98" y2="508.88" stroke-width="0.55" stroke="#ddd"/>
<line x1="442.38" y1="510.94" x2="453.78" y2="510.94" stroke-width="0.3" stroke="#666"/>
<rect x="456.8" y="502.7" width="12.4" height="10.3" fill="#000" stroke="none"/>
<line x1="457.3" y1="504.76" x2="468.7" y2="504.76" stroke-width="0.3" stroke="#666"/>
<line x1="457.3" y1="506.82" x2="468.7" y2="506.82" stroke-width="0.3" stroke="#666"/>
<line x1="457.1" y1="508.88" x2="468.9" y2="508.88" stroke-width="0.55" stroke="#ddd"/>
<line x1="457.3" y1="510.94" x2="468.7" y2="510.94" stroke-width="0.3" stroke="#666"/>
<rect x="382.2" y="520.6" width="12.4" height="10.3" fill="#000" stroke="none"/>
<line x1="382.5" y1="522.66" x2="394.3" y2="522.66" stroke-width="0.55" stroke="#ddd"/>
<line x1="382.7" y1="524.72" x2="394.1" y2="524.72" stroke-width="0.3" stroke="#666"/>
<line x1="382.7" y1="526.78" x2="394.1" y2="526.78" stroke-width="0.3" stroke="#666"/>
<line x1="382.7" y1="528.84" x2="394.1" y2="528.84" stroke-width="0.3" stroke="#666"/>
<rect x="397.12" y="520.6" width="12.4" height="10.3" fill="#000" stroke="none"/>
<line x1="397.42" y1="522.66" x2="409.22" y2="522.66" stroke-width="0.55" stroke="#ddd"/>
<line x1="397.62" y1="524.72" x2="409.02" y2="524.72" stroke-width="0.3" stroke="#666"/>
<line x1="397.62" y1="526.78" x2="409.02" y2="526.78" stroke-width="0.3" stroke="#666"/>
<line x1="397.62" y1="528.84" x2="409.02" y2="528.84" stroke-width="0.3" stroke="#666"/>
<rect x="412.04" y="520.6" width="12.4" height="10.3" fill="#000" stroke="none"/>
<line x1="412.34" y1="522.66" x2="424.14" y2="522.66" stroke-width="0.55" stroke="#ddd"/>
<line x1="412.54" y1="524.72" x2="423.94" y2="524.72" stroke-width="0.3" stroke="#666"/>
<line x1="412.54" y1="526.78" x2="423.94" y2="526.78" stroke-width="0.3" stroke="#666"/>
<line x1="412.54" y1="528.84" x2="423.94" y2="528.84" stroke-width="0.3" stroke="#666"/>
<rect x="426.96" y="520.6" width="12.4" height="10.3" fill="#000" stroke="none"/>
<line x1="427.26" y1="522.66" x2="439.06" y2="522.66" stroke-width="0.55" stroke="#ddd"/>
<line x1="427.46" y1="524.72" x2="438.86" y2="524.72" stroke-width="0.3" stroke="#666"/>
<line x1="427.46" y1="526.78" x2="438.86" y2="526.78" stroke-width="0.3" stroke="#666"/>
<line x1="427.46" y1="528.84" x2="438.86" y2="528.84" stroke-width="0.3" stroke="#666"/>
<rect x="441.88" y="520.6" width="12.4" height="10.3" fill="#000" stroke="none"/>
<line x1="442.18" y1="522.66" x2="453.98" y2="522.66" stroke-width="0.55" stroke="#ddd"/>
<line x1="442.38" y1="524.72" x2="453.78" y2="524.72" stroke-width="0.3" stroke="#666"/>
<line x1="442.38" y1="526.78" x2="453.78" y2="526.78" stroke-width="0.3" stroke="#666"/>
<line x1="442.38" y1="528.84" x2="453.78" y2="528.84" stroke-width="0.3" stroke="#666"/>
<rect x="456.8" y="520.6" width="12.4" height="10.3" fill="#000" stroke="none"/>
<line x1="457.1" y1="522.66" x2="468.9" y2="522.66" stroke-width="0.55" stroke="#ddd"/>
<line x1="457.3" y1="524.72" x2="468.7" y2="524.72" stroke-width="0.3" stroke="#666"/>
<line x1="457.3" y1="526.78" x2="468.7" y2="526.78" stroke-width="0.3" stroke="#666"/>
<line x1="457.3" y1="528.84" x2="468.7" y2="528.84" stroke-width="0.3" stroke="#666"/>
<circle cx="518.6" cy="195" r="2.3" fill="#000" stroke="none"/>
<circle cx="519.2" cy="550" r="1.9" fill="#000" stroke="none"/>
<rect x="596" y="193.4" width="2.6" height="2.8" fill="#000" stroke="none"/>
<rect x="596" y="370.8" width="2.8" height="3" fill="#000" stroke="none"/>
<rect x="596" y="548.6" width="2.6" height="2.8" fill="#000" stroke="none"/>
<path d="M515.8 238.3 C520 240.6 526 241.2 533 239.6 C541 237.8 548 237.4 556 237.6 C566 237.9 578 237.9 588.4 237.9" fill="none" stroke-width="1.4"/>
<path d="M515.8 514.2 C520 515.8 526 516.2 533 515.2 C543 513.6 552 511.4 559.5 511.7 C565 512 569 513.4 573 513.3 C578 513.1 584 512.7 588.4 512.5" fill="none" stroke-width="1.4"/>
<line x1="521.4" y1="240.2" x2="521.4" y2="515.4" stroke-width="2.8"/>
<line x1="582.5" y1="238.4" x2="582.5" y2="512.8" stroke-width="2.4"/>
<rect x="535" y="243.4" width="32.9" height="8.6" fill="#000" stroke="none" rx="1.2"/>
<rect x="541.75" y="245.7" width="1.1" height="4" fill="#fff" stroke="none"/>
<rect x="541.2" y="245.5" width="2.2" height="0.8" fill="#fff" stroke="none"/>
<rect x="541.2" y="249.1" width="2.2" height="0.8" fill="#fff" stroke="none"/>
<rect x="547.75" y="245.7" width="1.1" height="4" fill="#fff" stroke="none"/>
<rect x="547.2" y="245.5" width="2.2" height="0.8" fill="#fff" stroke="none"/>
<rect x="547.2" y="249.1" width="2.2" height="0.8" fill="#fff" stroke="none"/>
<rect x="553.95" y="245.7" width="1.1" height="4" fill="#fff" stroke="none"/>
<rect x="553.4" y="245.5" width="2.2" height="0.8" fill="#fff" stroke="none"/>
<rect x="553.4" y="249.1" width="2.2" height="0.8" fill="#fff" stroke="none"/>
<rect x="559.85" y="245.7" width="1.1" height="4" fill="#fff" stroke="none"/>
<rect x="559.3" y="245.5" width="2.2" height="0.8" fill="#fff" stroke="none"/>
<rect x="559.3" y="249.1" width="2.2" height="0.8" fill="#fff" stroke="none"/>
<rect x="535" y="495.9" width="32.9" height="8.6" fill="#000" stroke="none" rx="1.2"/>
<rect x="541.75" y="498.2" width="1.1" height="4" fill="#fff" stroke="none"/>
<rect x="541.2" y="498" width="2.2" height="0.8" fill="#fff" stroke="none"/>
<rect x="541.2" y="501.6" width="2.2" height="0.8" fill="#fff" stroke="none"/>
<rect x="547.75" y="498.2" width="1.1" height="4" fill="#fff" stroke="none"/>
<rect x="547.2" y="498" width="2.2" height="0.8" fill="#fff" stroke="none"/>
<rect x="547.2" y="501.6" width="2.2" height="0.8" fill="#fff" stroke="none"/>
<rect x="553.95" y="498.2" width="1.1" height="4" fill="#fff" stroke="none"/>
<rect x="553.4" y="498" width="2.2" height="0.8" fill="#fff" stroke="none"/>
<rect x="553.4" y="501.6" width="2.2" height="0.8" fill="#fff" stroke="none"/>
<rect x="559.85" y="498.2" width="1.1" height="4" fill="#fff" stroke="none"/>
<rect x="559.3" y="498" width="2.2" height="0.8" fill="#fff" stroke="none"/>
<rect x="559.3" y="501.6" width="2.2" height="0.8" fill="#fff" stroke="none"/>
<rect x="526.3" y="262.1" width="10.5" height="26.6" fill="#000" stroke="none" rx="0.8"/>
<rect x="528.9" y="265" width="5.4" height="7.2" fill="#fff" stroke="none"/>
<rect x="528.9" y="275.5" width="5.4" height="10.2" fill="#fff" stroke="none"/>
<path d="M528.9 265 L529.3 265.2 A2.3 3.7 0 0 0 533.9 265.2 L534.3 265 L534.3 264.1 L528.9 264.1Z" fill="#000" stroke="none"/>
<rect x="540.2" y="262.1" width="10.5" height="26.6" fill="#000" stroke="none" rx="0.8"/>
<rect x="542.8" y="265" width="5.4" height="7.2" fill="#fff" stroke="none"/>
<rect x="542.8" y="275.5" width="5.4" height="10.2" fill="#fff" stroke="none"/>
<path d="M542.8 265 L543.2 265.2 A2.3 3.7 0 0 0 547.8 265.2 L548.2 265 L548.2 264.1 L542.8 264.1Z" fill="#000" stroke="none"/>
<rect x="554.1" y="262.1" width="10.5" height="26.6" fill="#000" stroke="none" rx="0.8"/>
<rect x="556.7" y="265" width="5.4" height="7.2" fill="#fff" stroke="none"/>
<rect x="556.7" y="275.5" width="5.4" height="10.2" fill="#fff" stroke="none"/>
<path d="M556.7 265 L557.1 265.2 A2.3 3.7 0 0 0 561.7 265.2 L562.1 265 L562.1 264.1 L556.7 264.1Z" fill="#000" stroke="none"/>
<rect x="568" y="262.1" width="10.5" height="26.6" fill="#000" stroke="none" rx="0.8"/>
<rect x="570.6" y="265" width="5.4" height="7.2" fill="#fff" stroke="none"/>
<rect x="570.6" y="275.5" width="5.4" height="10.2" fill="#fff" stroke="none"/>
<path d="M570.6 265 L571 265.2 A2.3 3.7 0 0 0 575.6 265.2 L576 265 L576 264.1 L570.6 264.1Z" fill="#000" stroke="none"/>
<rect x="526.3" y="328.3" width="10.5" height="24.9" fill="#000" stroke="none" rx="0.8"/>
<rect x="528.9" y="331.2" width="5.4" height="7.8" fill="#fff" stroke="none"/>
<rect x="528.9" y="342.3" width="5.4" height="6.5" fill="#fff" stroke="none"/>
<path d="M528.9 331.2 L529.3 331.4 A2.3 3.7 0 0 0 533.9 331.4 L534.3 331.2 L534.3 330.3 L528.9 330.3Z" fill="#000" stroke="none"/>
<rect x="540.2" y="328.3" width="10.5" height="24.9" fill="#000" stroke="none" rx="0.8"/>
<rect x="542.8" y="331.2" width="5.4" height="7.8" fill="#fff" stroke="none"/>
<rect x="542.8" y="342.3" width="5.4" height="6.5" fill="#fff" stroke="none"/>
<path d="M542.8 331.2 L543.2 331.4 A2.3 3.7 0 0 0 547.8 331.4 L548.2 331.2 L548.2 330.3 L542.8 330.3Z" fill="#000" stroke="none"/>
<rect x="554.1" y="328.3" width="10.5" height="24.9" fill="#000" stroke="none" rx="0.8"/>
<rect x="556.7" y="331.2" width="5.4" height="7.8" fill="#fff" stroke="none"/>
<rect x="556.7" y="342.3" width="5.4" height="6.5" fill="#fff" stroke="none"/>
<path d="M556.7 331.2 L557.1 331.4 A2.3 3.7 0 0 0 561.7 331.4 L562.1 331.2 L562.1 330.3 L556.7 330.3Z" fill="#000" stroke="none"/>
<rect x="568" y="328.3" width="10.5" height="24.9" fill="#000" stroke="none" rx="0.8"/>
<rect x="570.6" y="331.2" width="5.4" height="7.8" fill="#fff" stroke="none"/>
<rect x="570.6" y="342.3" width="5.4" height="6.5" fill="#fff" stroke="none"/>
<path d="M570.6 331.2 L571 331.4 A2.3 3.7 0 0 0 575.6 331.4 L576 331.2 L576 330.3 L570.6 330.3Z" fill="#000" stroke="none"/>
<rect x="540.2" y="392.1" width="10.5" height="25" fill="#000" stroke="none" rx="0.8"/>
<rect x="542.8" y="395" width="5.4" height="7.5" fill="#fff" stroke="none"/>
<rect x="542.8" y="405.8" width="5.4" height="7" fill="#fff" stroke="none"/>
<path d="M542.8 395 L543.2 395.2 A2.3 3.7 0 0 0 547.8 395.2 L548.2 395 L548.2 394.1 L542.8 394.1Z" fill="#000" stroke="none"/>
<rect x="554.1" y="392.1" width="10.5" height="25" fill="#000" stroke="none" rx="0.8"/>
<rect x="556.7" y="395" width="5.4" height="7.5" fill="#fff" stroke="none"/>
<rect x="556.7" y="405.8" width="5.4" height="7" fill="#fff" stroke="none"/>
<path d="M556.7 395 L557.1 395.2 A2.3 3.7 0 0 0 561.7 395.2 L562.1 395 L562.1 394.1 L556.7 394.1Z" fill="#000" stroke="none"/>
<rect x="568" y="392.1" width="10.5" height="25" fill="#000" stroke="none" rx="0.8"/>
<rect x="570.6" y="395" width="5.4" height="7.5" fill="#fff" stroke="none"/>
<rect x="570.6" y="405.8" width="5.4" height="7" fill="#fff" stroke="none"/>
<path d="M570.6 395 L571 395.2 A2.3 3.7 0 0 0 575.6 395.2 L576 395 L576 394.1 L570.6 394.1Z" fill="#000" stroke="none"/>
<rect x="554.1" y="456.3" width="10.5" height="24.5" fill="#000" stroke="none" rx="0.8"/>
<rect x="556.7" y="459.2" width="5.4" height="7" fill="#fff" stroke="none"/>
<rect x="556.7" y="469.5" width="5.4" height="6.5" fill="#fff" stroke="none"/>
<path d="M556.7 459.2 L557.1 459.4 A2.3 3.7 0 0 0 561.7 459.4 L562.1 459.2 L562.1 458.3 L556.7 458.3Z" fill="#000" stroke="none"/>
<rect x="568" y="456.3" width="10.5" height="24.5" fill="#000" stroke="none" rx="0.8"/>
<rect x="570.6" y="459.2" width="5.4" height="7" fill="#fff" stroke="none"/>
<rect x="570.6" y="469.5" width="5.4" height="6.5" fill="#fff" stroke="none"/>
<path d="M570.6 459.2 L571 459.4 A2.3 3.7 0 0 0 575.6 459.4 L576 459.2 L576 458.3 L570.6 458.3Z" fill="#000" stroke="none"/>
<line x1="567.9" y1="500.2" x2="726.8" y2="500.2" stroke-width="1.8"/>
<line x1="719" y1="500.2" x2="719" y2="582" stroke-width="1.8"/>
<polygon points="719,500.8 717.3,509.8 720.7,509.8" fill="#000" stroke="none"/>
<polygon points="719,581.4 717.3,572.4 720.7,572.4" fill="#000" stroke="none"/>
<line x1="578.5" y1="467.9" x2="745.6" y2="467.9" stroke-width="1.8"/>
<line x1="740.6" y1="467.9" x2="740.6" y2="582" stroke-width="1.8"/>
<polygon points="740.6,468.5 738.9,477.5 742.3,477.5" fill="#000" stroke="none"/>
<polygon points="740.6,581.4 738.9,572.4 742.3,572.4" fill="#000" stroke="none"/>
<line x1="578.5" y1="404.2" x2="766.8" y2="404.2" stroke-width="1.8"/>
<line x1="761.8" y1="404.2" x2="761.8" y2="582" stroke-width="1.8"/>
<polygon points="761.8,404.8 760.1,413.8 763.5,413.8" fill="#000" stroke="none"/>
<polygon points="761.8,581.4 760.1,572.4 763.5,572.4" fill="#000" stroke="none"/>
<line x1="578.5" y1="340.7" x2="787.6" y2="340.7" stroke-width="1.8"/>
<line x1="783" y1="340.7" x2="783" y2="582" stroke-width="1.8"/>
<polygon points="783,341.3 781.3,350.3 784.7,350.3" fill="#000" stroke="none"/>
<polygon points="783,581.4 781.3,572.4 784.7,572.4" fill="#000" stroke="none"/>
<line x1="578.5" y1="273.9" x2="809" y2="273.9" stroke-width="1.8"/>
<line x1="804.2" y1="273.9" x2="804.2" y2="582" stroke-width="1.8"/>
<polygon points="804.2,274.5 802.5,283.5 805.9,283.5" fill="#000" stroke="none"/>
<polygon points="804.2,581.4 802.5,572.4 805.9,572.4" fill="#000" stroke="none"/>
<line x1="567.9" y1="247.3" x2="833.4" y2="247.3" stroke-width="1.8"/>
<line x1="825.4" y1="247.3" x2="825.4" y2="582" stroke-width="1.8"/>
<polygon points="825.4,247.9 823.7,256.9 827.1,256.9" fill="#000" stroke="none"/>
<polygon points="825.4,581.4 823.7,572.4 827.1,572.4" fill="#000" stroke="none"/>
<line x1="695.4" y1="582" x2="828.6" y2="582" stroke-width="1.8"/>
<text x="717.4" y="558.6" font-size="11.4" textLength="26.3" lengthAdjust="spacingAndGlyphs" transform="rotate(-90 717.4 558.6)" stroke="#000" stroke-width="0.5">~400</text>
<text x="739" y="540.8" font-size="11.4" textLength="27" lengthAdjust="spacingAndGlyphs" transform="rotate(-90 739 540.8)" stroke="#000" stroke-width="0.5">~500</text>
<text x="760.2" y="508.2" font-size="11.4" textLength="27.6" lengthAdjust="spacingAndGlyphs" transform="rotate(-90 760.2 508.2)" stroke="#000" stroke-width="0.5">~800</text>
<text x="781.4" y="480.8" font-size="11.4" textLength="33" lengthAdjust="spacingAndGlyphs" transform="rotate(-90 781.4 480.8)" stroke="#000" stroke-width="0.5">~1100</text>
<text x="802.6" y="448.2" font-size="11.4" textLength="33.2" lengthAdjust="spacingAndGlyphs" transform="rotate(-90 802.6 448.2)" stroke="#000" stroke-width="0.5">~1400</text>
<text x="823.8" y="428.2" font-size="11.4" textLength="34.2" lengthAdjust="spacingAndGlyphs" transform="rotate(-90 823.8 428.2)" stroke="#000" stroke-width="0.5">~1610</text>
<line x1="177.8" y1="178.7" x2="203.6" y2="178.7" stroke-width="1.8" stroke-linecap="round"/>
<line x1="177.8" y1="582.3" x2="203.6" y2="582.3" stroke-width="1.8" stroke-linecap="round"/>
<line x1="182.7" y1="178.4" x2="182.7" y2="582" stroke-width="1.9"/>
<polygon points="182.7,179 181,188 184.4,188" fill="#000" stroke="none"/>
<polygon points="182.7,581.6 181,572.6 184.4,572.6" fill="#000" stroke="none"/>
<text x="180" y="392.4" font-size="11.4" textLength="24.4" lengthAdjust="spacingAndGlyphs" transform="rotate(-90 180 392.4)" stroke="#000" stroke-width="0.5">1900</text>
<line x1="203.6" y1="582" x2="203.6" y2="628" stroke-width="1.8"/>
<line x1="336.6" y1="582" x2="336.6" y2="608.6" stroke-width="1.8"/>
<line x1="588.4" y1="582" x2="588.4" y2="608.6" stroke-width="1.8"/>
<line x1="695.4" y1="582" x2="695.4" y2="628" stroke-width="1.8"/>
<line x1="203.6" y1="603.4" x2="695.4" y2="603.4" stroke-width="1.8"/>
<line x1="203.6" y1="623.2" x2="695.4" y2="623.2" stroke-width="1.8"/>
<polygon points="204.5,603.4 212,602 212,604.8" fill="#000" stroke="none"/>
<polygon points="335.7,603.4 328.2,602 328.2,604.8" fill="#000" stroke="none"/>
<polygon points="337.5,603.4 345,602 345,604.8" fill="#000" stroke="none"/>
<polygon points="587.5,603.4 580,602 580,604.8" fill="#000" stroke="none"/>
<polygon points="589.3,603.4 596.8,602 596.8,604.8" fill="#000" stroke="none"/>
<polygon points="694.5,603.4 687,602 687,604.8" fill="#000" stroke="none"/>
<polygon points="204.5,623.2 212,621.8 212,624.6" fill="#000" stroke="none"/>
<polygon points="694.5,623.2 687,621.8 687,624.6" fill="#000" stroke="none"/>
<text x="270" y="600.8" font-size="11.6" text-anchor="middle" textLength="7.2" lengthAdjust="spacingAndGlyphs" stroke="#000" stroke-width="0.5">A</text>
<text x="476.4" y="601.8" font-size="11.4" text-anchor="middle" textLength="23.4" lengthAdjust="spacingAndGlyphs" stroke="#000" stroke-width="0.5">1185</text>
<text x="643.2" y="600.4" font-size="11.4" text-anchor="middle" textLength="18" lengthAdjust="spacingAndGlyphs" stroke="#000" stroke-width="0.5">500</text>
<text x="452.4" y="620.6" font-size="11.6" text-anchor="middle" textLength="6.4" lengthAdjust="spacingAndGlyphs" stroke="#000" stroke-width="0.5">B</text>
<ellipse cx="394.7" cy="171.2" rx="10.2" ry="2.9" stroke-width="2.4"/>
<ellipse cx="417.3" cy="171.2" rx="10.2" ry="2.9" stroke-width="2.4"/>
<line x1="406" y1="165.5" x2="406" y2="178.4" stroke-width="2.5"/>
<polygon points="406,159.6 402,166.6 410,166.6" fill="#000" stroke="none"/>
<ellipse cx="631" cy="171.2" rx="10.2" ry="2.9" stroke-width="2.4"/>
<ellipse cx="653.6" cy="171.2" rx="10.2" ry="2.9" stroke-width="2.4"/>
<line x1="642.3" y1="165.5" x2="642.3" y2="178.4" stroke-width="2.5"/>
<polygon points="642.3,159.6 638.3,166.6 646.3,166.6" fill="#000" stroke="none"/>
<line x1="271.6" y1="165.5" x2="271.8" y2="177.8" stroke-width="2.3"/>
<polygon points="271.5,159.6 267.6,166.8 275.4,166.8" fill="#000" stroke="none"/>
<text x="252" y="146.8" font-size="10.5" textLength="43" lengthAdjust="spacingAndGlyphs" stroke="#000" stroke-width="0.55">AIR-LUFT</text>
<text x="252.8" y="159.8" font-size="10.5" textLength="41.6" lengthAdjust="spacingAndGlyphs" stroke="#000" stroke-width="0.55">ARIA-AIR</text>
<text x="386.3" y="146.8" font-size="10.5" textLength="43.5" lengthAdjust="spacingAndGlyphs" stroke="#000" stroke-width="0.55">AIR-LUFT</text>
<text x="387.1" y="159.8" font-size="10.5" textLength="42.1" lengthAdjust="spacingAndGlyphs" stroke="#000" stroke-width="0.55">ARIA-AIR</text>
<text x="622.6" y="146.8" font-size="10.5" textLength="43.4" lengthAdjust="spacingAndGlyphs" stroke="#000" stroke-width="0.55">AIR-LUFT</text>
<text x="623.4" y="159.8" font-size="10.5" textLength="42" lengthAdjust="spacingAndGlyphs" stroke="#000" stroke-width="0.55">ARIA-AIR</text>
<path d="M374 107.8 L336.6 126 L336.6 163" fill="none" stroke-width="3.1" stroke-linejoin="miter"/>
<polygon points="336.6,173.4 329.7,162 343.5,162" fill="#000" stroke="none"/>
<path d="M436.6 107.8 L475.2 126 L475.2 163" fill="none" stroke-width="3.1" stroke-linejoin="miter"/>
<polygon points="475.2,173.4 468.3,162 482.1,162" fill="#000" stroke="none"/>
<path d="M476.4 107.4 L588.4 126 L588.4 163" fill="none" stroke-width="3.1" stroke-linejoin="miter"/>
<polygon points="588.4,173.4 581.5,162 595.3,162" fill="#000" stroke="none"/>
<text y="62" font-size="10.3" stroke="#000" stroke-width="0.55"><tspan x="327.3" textLength="106.9" lengthAdjust="spacingAndGlyphs">MOUNTING/TRASPORT</tspan> <tspan x="437.5" textLength="59.7" lengthAdjust="spacingAndGlyphs">SEPARATION</tspan></text>
<text x="319.7" y="75.2" font-size="10.3" textLength="186.3" lengthAdjust="spacingAndGlyphs" stroke="#000" stroke-width="0.55">AUSSTELLUNG/TRANSPORTTRENNUNG</text>
<text y="88.2" font-size="10.3" stroke="#000" stroke-width="0.55"><tspan x="327.8" textLength="66.4" lengthAdjust="spacingAndGlyphs">SEPARAZIONE</tspan> <tspan x="398.3" textLength="9.2" lengthAdjust="spacingAndGlyphs">DI</tspan> <tspan x="411.3" textLength="85.5" lengthAdjust="spacingAndGlyphs">POSA/TRASPORTO</tspan></text>
<text y="101.4" font-size="10.3" stroke="#000" stroke-width="0.55"><tspan x="317.5" textLength="60" lengthAdjust="spacingAndGlyphs">SEPARATION</tspan> <tspan x="381.7" textLength="12.5" lengthAdjust="spacingAndGlyphs">DE</tspan> <tspan x="397.5" textLength="108.7" lengthAdjust="spacingAndGlyphs">MONTAGE/TRANSPORT</tspan></text>
<text x="220.7" y="212.2" font-size="15.2" textLength="53.1" lengthAdjust="spacingAndGlyphs" stroke="#000" stroke-width="0.5">OPTION</text>
<text x="217.3" y="228.6" font-size="15.2" textLength="59.3" lengthAdjust="spacingAndGlyphs" stroke="#000" stroke-width="0.5">BATTERY</text>
<text x="391.8" y="212.4" font-size="15.2" textLength="26.4" lengthAdjust="spacingAndGlyphs" stroke="#000" stroke-width="0.5">UPS</text>
<text x="526.7" y="200.3" font-size="14.6" textLength="52" lengthAdjust="spacingAndGlyphs" stroke="#000" stroke-width="0.5">OPTION</text>
<text y="215.8" font-size="10.5" stroke="#000" stroke-width="0.55"><tspan x="521.7" textLength="19.1" lengthAdjust="spacingAndGlyphs">EMC</tspan> <tspan x="545" textLength="36.7" lengthAdjust="spacingAndGlyphs">FILTER+</tspan></text>
<text y="231.2" font-size="10.5" stroke="#000" stroke-width="0.55"><tspan x="516.7" textLength="35.8" lengthAdjust="spacingAndGlyphs">CABLES</tspan> <tspan x="556.3" textLength="30" lengthAdjust="spacingAndGlyphs">ENTRY</tspan></text>
<text x="615.9" y="209" font-size="15.2" textLength="52.5" lengthAdjust="spacingAndGlyphs" stroke="#000" stroke-width="0.5">OPTION</text>
<text x="591.7" y="224.6" font-size="15.2" textLength="102.1" lengthAdjust="spacingAndGlyphs" stroke="#000" stroke-width="0.5">TRANSFORMER</text>
</g>
<g id="topview">
<line x1="202.4" y1="658.8" x2="280.35" y2="658.8" stroke-width="2.5"/>
<line x1="287.15" y1="658.8" x2="696.6" y2="658.8" stroke-width="2.5"/>
<line x1="202.4" y1="839.3" x2="274.85" y2="839.3" stroke-width="2.8"/>
<line x1="281.75" y1="839.3" x2="696.6" y2="839.3" stroke-width="2.8"/>
<line x1="203.6" y1="658.8" x2="203.6" y2="839.3" stroke-width="2.4"/>
<line x1="337" y1="658.8" x2="337" y2="839.3" stroke-width="2.4"/>
<line x1="514.3" y1="658.8" x2="514.3" y2="839.3" stroke-width="2.4"/>
<line x1="588.4" y1="658.8" x2="588.4" y2="839.3" stroke-width="2.4"/>
<line x1="695.4" y1="658.8" x2="695.4" y2="839.3" stroke-width="2.4"/>
<path d="M279.5 657.4C279.5 659.83 279.5 666.98 279.5 672C279.5 677.02 279.82 681.17 279.5 687.5C279.18 693.83 278.37 702.08 277.6 710C276.83 717.92 275.8 727.33 274.9 735C274 742.67 272.97 749.67 272.2 756C271.43 762.33 270.7 767.33 270.3 773C269.9 778.67 269.78 784.5 269.8 790C269.82 795.5 270.03 800.67 270.4 806C270.77 811.33 271.4 816.23 272 822C272.6 827.77 273.67 837.5 274 840.6" fill="none" stroke-width="1.7"/>
<path d="M288 657.4C288 659.83 288 666.98 288 672C288 677.02 288.3 681.5 288 687.5C287.7 693.5 286.83 701.58 286.2 708C285.57 714.42 284.87 720 284.2 726C283.53 732 282.82 738.67 282.2 744C281.58 749.33 280.97 752.67 280.5 758C280.03 763.33 279.6 770.33 279.4 776C279.2 781.67 279.18 786.33 279.3 792C279.42 797.67 279.78 804.5 280.1 810C280.42 815.5 280.78 819.9 281.2 825C281.62 830.1 282.37 838 282.6 840.6" fill="none" stroke-width="1.7"/>
<line x1="212.25" y1="673.5" x2="274.05" y2="673.5" stroke-width="1.9" stroke-linecap="round" stroke-dasharray="10.55 2.35"/>
<line x1="329.65" y1="673.5" x2="289.95" y2="673.5" stroke-width="1.9" stroke-linecap="round" stroke-dasharray="10.55 2.35"/>
<line x1="597.95" y1="673.5" x2="684.85" y2="673.5" stroke-width="1.9" stroke-linecap="round" stroke-dasharray="10.5 2.36"/>
<line x1="212.25" y1="681.16" x2="274.05" y2="681.16" stroke-width="1.9" stroke-linecap="round" stroke-dasharray="10.55 2.35"/>
<line x1="329.65" y1="681.16" x2="289.95" y2="681.16" stroke-width="1.9" stroke-linecap="round" stroke-dasharray="10.55 2.35"/>
<line x1="597.95" y1="681.16" x2="684.85" y2="681.16" stroke-width="1.9" stroke-linecap="round" stroke-dasharray="10.5 2.36"/>
<line x1="212.25" y1="688.83" x2="274.05" y2="688.83" stroke-width="1.9" stroke-linecap="round" stroke-dasharray="10.55 2.35"/>
<line x1="329.65" y1="688.83" x2="289.83" y2="688.83" stroke-width="1.9" stroke-linecap="round" stroke-dasharray="10.55 2.35"/>
<line x1="597.95" y1="688.83" x2="684.85" y2="688.83" stroke-width="1.9" stroke-linecap="round" stroke-dasharray="10.5 2.36"/>
<line x1="212.25" y1="696.5" x2="274.05" y2="696.5" stroke-width="1.9" stroke-linecap="round" stroke-dasharray="10.55 2.35"/>
<line x1="329.65" y1="696.5" x2="289.16" y2="696.5" stroke-width="1.9" stroke-linecap="round" stroke-dasharray="10.55 2.35"/>
<line x1="597.95" y1="696.5" x2="684.85" y2="696.5" stroke-width="1.9" stroke-linecap="round" stroke-dasharray="10.5 2.36"/>
<line x1="212.25" y1="704.16" x2="274.05" y2="704.16" stroke-width="1.9" stroke-linecap="round" stroke-dasharray="10.55 2.35"/>
<line x1="329.65" y1="704.16" x2="288.49" y2="704.16" stroke-width="1.9" stroke-linecap="round" stroke-dasharray="10.55 2.35"/>
<line x1="597.95" y1="704.16" x2="684.85" y2="704.16" stroke-width="1.9" stroke-linecap="round" stroke-dasharray="10.5 2.36"/>
<line x1="212.25" y1="711.83" x2="274.05" y2="711.83" stroke-width="1.9" stroke-linecap="round" stroke-dasharray="10.55 2.35"/>
<line x1="329.65" y1="711.83" x2="287.72" y2="711.83" stroke-width="1.9" stroke-linecap="round" stroke-dasharray="10.55 2.35"/>
<line x1="597.95" y1="711.83" x2="684.85" y2="711.83" stroke-width="1.9" stroke-linecap="round" stroke-dasharray="10.5 2.36"/>
<line x1="212.25" y1="719.49" x2="274.05" y2="719.49" stroke-width="1.9" stroke-linecap="round" stroke-dasharray="10.55 2.35"/>
<line x1="329.65" y1="719.49" x2="286.87" y2="719.49" stroke-width="1.9" stroke-linecap="round" stroke-dasharray="10.55 2.35"/>
<line x1="597.95" y1="719.49" x2="684.85" y2="719.49" stroke-width="1.9" stroke-linecap="round" stroke-dasharray="10.5 2.36"/>
<line x1="212.25" y1="727.15" x2="273.8" y2="727.15" stroke-width="1.9" stroke-linecap="round" stroke-dasharray="10.55 2.35"/>
<line x1="329.65" y1="727.15" x2="286.02" y2="727.15" stroke-width="1.9" stroke-linecap="round" stroke-dasharray="10.55 2.35"/>
<line x1="597.95" y1="727.15" x2="684.85" y2="727.15" stroke-width="1.9" stroke-linecap="round" stroke-dasharray="10.5 2.36"/>
<line x1="212.25" y1="734.82" x2="272.97" y2="734.82" stroke-width="1.9" stroke-linecap="round" stroke-dasharray="10.55 2.35"/>
<line x1="329.65" y1="734.82" x2="285.17" y2="734.82" stroke-width="1.9" stroke-linecap="round" stroke-dasharray="10.55 2.35"/>
<line x1="597.95" y1="734.82" x2="684.85" y2="734.82" stroke-width="1.9" stroke-linecap="round" stroke-dasharray="10.5 2.36"/>
<line x1="212.25" y1="742.49" x2="271.99" y2="742.49" stroke-width="1.9" stroke-linecap="round" stroke-dasharray="10.55 2.35"/>
<line x1="329.65" y1="742.49" x2="284.32" y2="742.49" stroke-width="1.9" stroke-linecap="round" stroke-dasharray="10.55 2.35"/>
<line x1="597.95" y1="742.49" x2="684.85" y2="742.49" stroke-width="1.9" stroke-linecap="round" stroke-dasharray="10.5 2.36"/>
<line x1="212.25" y1="750.15" x2="271" y2="750.15" stroke-width="1.9" stroke-linecap="round" stroke-dasharray="10.55 2.35"/>
<line x1="329.65" y1="750.15" x2="283.4" y2="750.15" stroke-width="1.9" stroke-linecap="round" stroke-dasharray="10.55 2.35"/>
<line x1="597.95" y1="750.15" x2="684.85" y2="750.15" stroke-width="1.9" stroke-linecap="round" stroke-dasharray="10.5 2.36"/>
<line x1="212.25" y1="757.82" x2="270.05" y2="757.82" stroke-width="1.9" stroke-linecap="round" stroke-dasharray="10.55 2.35"/>
<line x1="329.65" y1="757.82" x2="282.47" y2="757.82" stroke-width="1.9" stroke-linecap="round" stroke-dasharray="10.55 2.35"/>
<line x1="597.95" y1="757.82" x2="684.85" y2="757.82" stroke-width="1.9" stroke-linecap="round" stroke-dasharray="10.5 2.36"/>
<line x1="212.25" y1="765.48" x2="269.19" y2="765.48" stroke-width="1.9" stroke-linecap="round" stroke-dasharray="10.55 2.35"/>
<line x1="329.65" y1="765.48" x2="281.99" y2="765.48" stroke-width="1.9" stroke-linecap="round" stroke-dasharray="10.55 2.35"/>
<line x1="597.95" y1="765.48" x2="684.85" y2="765.48" stroke-width="1.9" stroke-linecap="round" stroke-dasharray="10.5 2.36"/>
<line x1="212.25" y1="773.14" x2="268.35" y2="773.14" stroke-width="1.9" stroke-linecap="round" stroke-dasharray="10.55 2.35"/>
<line x1="329.65" y1="773.14" x2="281.52" y2="773.14" stroke-width="1.9" stroke-linecap="round" stroke-dasharray="10.55 2.35"/>
<line x1="597.95" y1="773.14" x2="684.85" y2="773.14" stroke-width="1.9" stroke-linecap="round" stroke-dasharray="10.5 2.36"/>
<line x1="212.25" y1="780.81" x2="268.12" y2="780.81" stroke-width="1.9" stroke-linecap="round" stroke-dasharray="10.55 2.35"/>
<line x1="329.65" y1="780.81" x2="281.32" y2="780.81" stroke-width="1.9" stroke-linecap="round" stroke-dasharray="10.55 2.35"/>
<line x1="597.95" y1="780.81" x2="684.85" y2="780.81" stroke-width="1.9" stroke-linecap="round" stroke-dasharray="10.5 2.36"/>
<line x1="212.25" y1="788.48" x2="267.89" y2="788.48" stroke-width="1.9" stroke-linecap="round" stroke-dasharray="10.55 2.35"/>
<line x1="329.65" y1="788.48" x2="281.27" y2="788.48" stroke-width="1.9" stroke-linecap="round" stroke-dasharray="10.55 2.35"/>
<line x1="597.95" y1="788.48" x2="684.85" y2="788.48" stroke-width="1.9" stroke-linecap="round" stroke-dasharray="10.5 2.36"/>
<line x1="212.25" y1="796.14" x2="268.08" y2="796.14" stroke-width="1.9" stroke-linecap="round" stroke-dasharray="10.55 2.35"/>
<line x1="329.65" y1="796.14" x2="281.43" y2="796.14" stroke-width="1.9" stroke-linecap="round" stroke-dasharray="10.55 2.35"/>
<line x1="597.95" y1="796.14" x2="684.85" y2="796.14" stroke-width="1.9" stroke-linecap="round" stroke-dasharray="10.5 2.36"/>
<line x1="212.25" y1="803.81" x2="268.37" y2="803.81" stroke-width="1.9" stroke-linecap="round" stroke-dasharray="10.55 2.35"/>
<line x1="329.65" y1="803.81" x2="281.77" y2="803.81" stroke-width="1.9" stroke-linecap="round" stroke-dasharray="10.55 2.35"/>
<line x1="597.95" y1="803.81" x2="684.85" y2="803.81" stroke-width="1.9" stroke-linecap="round" stroke-dasharray="10.5 2.36"/>
<line x1="212.25" y1="811.47" x2="269" y2="811.47" stroke-width="1.9" stroke-linecap="round" stroke-dasharray="10.55 2.35"/>
<line x1="329.65" y1="811.47" x2="282.16" y2="811.47" stroke-width="1.9" stroke-linecap="round" stroke-dasharray="10.55 2.35"/>
<line x1="597.95" y1="811.47" x2="684.85" y2="811.47" stroke-width="1.9" stroke-linecap="round" stroke-dasharray="10.5 2.36"/>
<line x1="212.25" y1="819.13" x2="269.76" y2="819.13" stroke-width="1.9" stroke-linecap="round" stroke-dasharray="10.55 2.35"/>
<line x1="329.65" y1="819.13" x2="282.72" y2="819.13" stroke-width="1.9" stroke-linecap="round" stroke-dasharray="10.55 2.35"/>
<line x1="597.95" y1="819.13" x2="684.85" y2="819.13" stroke-width="1.9" stroke-linecap="round" stroke-dasharray="10.5 2.36"/>
<line x1="212.25" y1="826.8" x2="270.57" y2="826.8" stroke-width="1.9" stroke-linecap="round" stroke-dasharray="10.55 2.35"/>
<line x1="329.65" y1="826.8" x2="283.31" y2="826.8" stroke-width="1.9" stroke-linecap="round" stroke-dasharray="10.55 2.35"/>
<line x1="597.95" y1="826.8" x2="684.85" y2="826.8" stroke-width="1.9" stroke-linecap="round" stroke-dasharray="10.5 2.36"/>
<line x1="345.05" y1="666.6" x2="505.95" y2="666.6" stroke-width="1.7" stroke-linecap="round" stroke-dasharray="9.4 2.3"/>
<line x1="345.05" y1="672.8" x2="505.95" y2="672.8" stroke-width="1.7" stroke-linecap="round" stroke-dasharray="9.4 2.3"/>
<rect x="365.4" y="687.6" width="147" height="64.4" fill="none" stroke-width="2.4" rx="2"/>
<line x1="370.7" y1="692.6" x2="508.3" y2="692.6" stroke-width="1.8" stroke-linecap="round" stroke-dasharray="9.3 2.4"/>
<line x1="370.7" y1="699.01" x2="508.3" y2="699.01" stroke-width="1.8" stroke-linecap="round" stroke-dasharray="9.3 2.4"/>
<line x1="370.7" y1="705.42" x2="508.3" y2="705.42" stroke-width="1.8" stroke-linecap="round" stroke-dasharray="9.3 2.4"/>
<line x1="370.7" y1="711.83" x2="508.3" y2="711.83" stroke-width="1.8" stroke-linecap="round" stroke-dasharray="9.3 2.4"/>
<line x1="370.7" y1="718.24" x2="508.3" y2="718.24" stroke-width="1.8" stroke-linecap="round" stroke-dasharray="9.3 2.4"/>
<line x1="370.7" y1="724.65" x2="508.3" y2="724.65" stroke-width="1.8" stroke-linecap="round" stroke-dasharray="9.3 2.4"/>
<line x1="370.7" y1="731.06" x2="508.3" y2="731.06" stroke-width="1.8" stroke-linecap="round" stroke-dasharray="9.3 2.4"/>
<line x1="370.7" y1="737.47" x2="508.3" y2="737.47" stroke-width="1.8" stroke-linecap="round" stroke-dasharray="9.3 2.4"/>
<line x1="370.7" y1="743.88" x2="508.3" y2="743.88" stroke-width="1.8" stroke-linecap="round" stroke-dasharray="9.3 2.4"/>
<circle cx="367.8" cy="689.8" r="1.8" fill="#000" stroke="none"/>
<circle cx="445" cy="689.4" r="1.8" fill="#000" stroke="none"/>
<circle cx="510.2" cy="689.8" r="1.8" fill="#000" stroke="none"/>
<circle cx="367.8" cy="750" r="1.8" fill="#000" stroke="none"/>
<circle cx="445" cy="750.4" r="1.8" fill="#000" stroke="none"/>
<circle cx="510.2" cy="750" r="1.8" fill="#000" stroke="none"/>
<line x1="344" y1="754.9" x2="508.8" y2="754.9" stroke-width="1.75" stroke-dasharray="12.2 0.6"/>
<line x1="344" y1="757" x2="508.8" y2="757" stroke-width="1.75" stroke-dasharray="12.2 0.6"/>
<line x1="344" y1="759.1" x2="508.8" y2="759.1" stroke-width="1.75" stroke-dasharray="12.2 0.6"/>
<line x1="344" y1="761.2" x2="508.8" y2="761.2" stroke-width="1.75" stroke-dasharray="12.2 0.6"/>
<line x1="344" y1="763.3" x2="508.8" y2="763.3" stroke-width="1.75" stroke-dasharray="12.2 0.6"/>
<line x1="344" y1="765.4" x2="508.8" y2="765.4" stroke-width="1.75" stroke-dasharray="12.2 0.6"/>
<rect x="519.8" y="801" width="64.6" height="35" fill="none" stroke-width="2.2" rx="2.2"/>
<line x1="521" y1="836.4" x2="583.4" y2="836.4" stroke-width="2.6"/>
<circle cx="524.6" cy="804.6" r="1.4" fill="#000" stroke="none"/>
<circle cx="579.8" cy="804.6" r="1.4" fill="#000" stroke="none"/>
<circle cx="524.6" cy="833" r="1.4" fill="#000" stroke="none"/>
<circle cx="579.8" cy="833" r="1.4" fill="#000" stroke="none"/>
<polygon points="202.73,840.03 192.53,877.23 196.67,878.37 206.87,841.17" fill="#fff" stroke-width="2.7"/>
<polygon points="191.82,880.27 180.52,925.07 184.68,926.13 195.98,881.33" fill="#fff" stroke-width="2.7"/>
<polygon points="185.4,911 191.4,912.8 189.4,921 186,925.6 183.2,919" fill="#000" stroke="none"/>
<path d="M181.0 926.6 C184.5 928.6 188.0 927.6 190.6 930.0" fill="none" stroke-width="1.6"/>
<polygon points="332.94,841.23 344.24,878.23 348.36,876.97 337.06,839.97" fill="#fff" stroke-width="2.7"/>
<polygon points="344.91,881.31 348.51,895.91 352.69,894.89 349.09,880.29" fill="#fff" stroke-width="2.7"/>
<polygon points="510.25,841.5 513.65,848.9 517.55,847.1 514.15,839.7" fill="#fff" stroke-width="2.7"/>
<path d="M515.6 850.4 L512.8 864.6 M518.2 850.6 L522.2 865.0 M507.4 865.6 L526.0 862.8 L525.2 856.6 L521.6 857.2 M509.8 870.2 L528.0 867.6 L529.6 878.0 L526.0 878.6 L525.0 871.6 L510.4 873.6 Z" fill="none" stroke-width="2.3"/>
<polygon points="517.74,872.21 531.94,920.61 536.06,919.39 521.86,870.99" fill="#fff" stroke-width="2.7"/>
<polygon points="524,904.4 529.4,902.6 531.6,910.2 530.8,916 526.4,911.4" fill="#000" stroke="none"/>
<path d="M526.4 921.8 C529.4 921.6 532.2 921.0 535.6 920.6" fill="none" stroke-width="1.6"/>
<polygon points="584.84,841.2 588.94,855.2 593.06,854 588.96,840" fill="#fff" stroke-width="2.7"/>
<polygon points="590.11,857.92 599.31,894.72 603.49,893.68 594.29,856.88" fill="#fff" stroke-width="2.7"/>
<polygon points="691.52,841.14 695.12,855.14 699.28,854.06 695.68,840.06" fill="#fff" stroke-width="2.7"/>
<polygon points="695.73,857.96 708.33,904.36 712.47,903.24 699.87,856.84" fill="#fff" stroke-width="2.7"/>
<polygon points="701.8,892.4 707.4,890.4 709.6,898 708.8,904 704.4,899.4" fill="#000" stroke="none"/>
<line x1="205.7" y1="856.3" x2="205.7" y2="930.4" stroke-width="1.7" stroke-dasharray="14.9 5.9"/>
<line x1="511.9" y1="874.6" x2="511.9" y2="923.2" stroke-width="1.7" stroke-dasharray="13.9 5.9"/>
<line x1="518" y1="923" x2="522" y2="923" stroke-width="1.5"/>
<line x1="693" y1="856" x2="693" y2="906.6" stroke-width="1.7" stroke-dasharray="14.4 6"/>
<line x1="139.2" y1="658.8" x2="203.6" y2="658.8" stroke-width="1.7"/>
<line x1="177.4" y1="839.3" x2="203.6" y2="839.3" stroke-width="1.7"/>
<line x1="157" y1="923.1" x2="174.8" y2="923.1" stroke-width="1.7"/>
<line x1="186.6" y1="923.1" x2="517.8" y2="923.1" stroke-width="1.7"/>
<line x1="139.2" y1="930.4" x2="206.5" y2="930.4" stroke-width="1.7"/>
<line x1="144.2" y1="658.8" x2="144.2" y2="930.4" stroke-width="1.8"/>
<polygon points="144.2,659.4 142.5,668.4 145.9,668.4" fill="#000" stroke="none"/>
<polygon points="144.2,929.8 142.5,920.8 145.9,920.8" fill="#000" stroke="none"/>
<line x1="162.4" y1="658.8" x2="162.4" y2="923.1" stroke-width="1.8"/>
<polygon points="162.4,659.4 160.7,668.4 164.1,668.4" fill="#000" stroke="none"/>
<polygon points="162.4,922.5 160.7,913.5 164.1,913.5" fill="#000" stroke="none"/>
<line x1="182.5" y1="658.8" x2="182.5" y2="839.3" stroke-width="1.8"/>
<polygon points="182.5,659.4 180.8,668.4 184.2,668.4" fill="#000" stroke="none"/>
<polygon points="182.5,838.7 180.8,829.7 184.2,829.7" fill="#000" stroke="none"/>
<text x="141.6" y="819.4" font-size="11.8" textLength="50" lengthAdjust="spacingAndGlyphs" transform="rotate(-90 141.6 819.4)" stroke="#000" stroke-width="0.5">max. 1680</text>
<text x="159.8" y="816.2" font-size="11.8" textLength="50" lengthAdjust="spacingAndGlyphs" transform="rotate(-90 159.8 816.2)" stroke="#000" stroke-width="0.5">max. 1640</text>
<text x="180" y="758.2" font-size="11.8" textLength="18.4" lengthAdjust="spacingAndGlyphs" transform="rotate(-90 180 758.2)" stroke="#000" stroke-width="0.5">850</text>
<line x1="695.4" y1="658.8" x2="742.8" y2="658.8" stroke-width="1.7"/>
<line x1="692.2" y1="906.6" x2="742.8" y2="906.6" stroke-width="1.7"/>
<line x1="738" y1="658.8" x2="738" y2="906.6" stroke-width="1.8"/>
<polygon points="738,659.4 736.3,668.4 739.7,668.4" fill="#000" stroke="none"/>
<polygon points="738,906 736.3,897 739.7,897" fill="#000" stroke="none"/>
<text x="735" y="805" font-size="11.8" textLength="49.4" lengthAdjust="spacingAndGlyphs" transform="rotate(-90 735 805)" stroke="#000" stroke-width="0.5">max. 1350</text>
</g>
<g id="detail">
<rect x="1009.8" y="126.8" width="118.6" height="583.4" fill="none" stroke-width="2.6"/>
<rect x="1041.4" y="139.6" width="56" height="13.2" fill="none" stroke-width="1.9"/>
<ellipse cx="1047.8" cy="146.2" rx="2.9" ry="3.1" fill="#000" stroke="none"/>
<circle cx="1047.8" cy="146.2" r="0.7" fill="#555" stroke="none"/>
<ellipse cx="1058.4" cy="146.2" rx="2.9" ry="3.1" fill="#000" stroke="none"/>
<circle cx="1058.4" cy="146.2" r="0.7" fill="#555" stroke="none"/>
<ellipse cx="1069.2" cy="146.2" rx="2.9" ry="3.1" fill="#000" stroke="none"/>
<circle cx="1069.2" cy="146.2" r="0.7" fill="#555" stroke="none"/>
<ellipse cx="1080" cy="146.2" rx="2.9" ry="3.1" fill="#000" stroke="none"/>
<circle cx="1080" cy="146.2" r="0.7" fill="#555" stroke="none"/>
<ellipse cx="1091.2" cy="146.2" rx="2.9" ry="3.1" fill="#000" stroke="none"/>
<circle cx="1091.2" cy="146.2" r="0.7" fill="#555" stroke="none"/>
<text x="1104.8" y="150.4" font-size="13.4" textLength="15.4" lengthAdjust="spacingAndGlyphs" stroke="#000" stroke-width="0.5">PE</text>
<rect x="1041.4" y="686.6" width="56" height="13.8" fill="none" stroke-width="1.9"/>
<ellipse cx="1047.8" cy="693.5" rx="2.9" ry="3.1" fill="#000" stroke="none"/>
<circle cx="1047.8" cy="693.5" r="0.7" fill="#555" stroke="none"/>
<ellipse cx="1058.4" cy="693.5" rx="2.9" ry="3.1" fill="#000" stroke="none"/>
<circle cx="1058.4" cy="693.5" r="0.7" fill="#555" stroke="none"/>
<ellipse cx="1069.2" cy="693.5" rx="2.9" ry="3.1" fill="#000" stroke="none"/>
<circle cx="1069.2" cy="693.5" r="0.7" fill="#555" stroke="none"/>
<ellipse cx="1080" cy="693.5" rx="2.9" ry="3.1" fill="#000" stroke="none"/>
<circle cx="1080" cy="693.5" r="0.7" fill="#555" stroke="none"/>
<ellipse cx="1091.2" cy="693.5" rx="2.9" ry="3.1" fill="#000" stroke="none"/>
<circle cx="1091.2" cy="693.5" r="0.7" fill="#555" stroke="none"/>
<text x="1104.8" y="698" font-size="13.4" textLength="15.4" lengthAdjust="spacingAndGlyphs" stroke="#000" stroke-width="0.5">PE</text>
<rect x="1016.9" y="194" width="108.1" height="71.4" fill="none" stroke-width="3"/>
<line x1="1017.6" y1="194" x2="1017.6" y2="265.4" stroke-width="4.2"/>
<polygon points="1034,194.6 1053.3,194.6 1044.8,215.8 1044.5,218.6 1025.9,218.6 1025.9,213.6" fill="#000" stroke="none"/>
<polygon points="1037.8,196.3 1050.8,196.3 1042.9,215 1030.4,215" fill="#fff" stroke="none"/>
<ellipse cx="1042.1" cy="202.1" rx="3.9" ry="3.3" fill="#000" stroke="none" transform="rotate(-20 1042.1 202.1)"/>
<rect x="1024.9" y="211.6" width="4.2" height="36.2" fill="#000" stroke="none" rx="0.8"/>
<rect x="1024.4" y="240.1" width="18.7" height="7.7" fill="#000" stroke="none" rx="1.4"/>
<rect x="1024.9" y="215" width="19.6" height="26.2" fill="#000" stroke="none" rx="0.8"/>
<rect x="1028.8" y="219.2" width="13.3" height="16.3" fill="#fff" stroke="none"/>
<circle cx="1036.1" cy="222.6" r="4.6" fill="#000" stroke="none"/>
<circle cx="1035.6" cy="231.2" r="4.9" fill="#000" stroke="none"/>
<rect x="1032.3" y="222.6" width="6.6" height="9" fill="#000" stroke="none"/>
<rect x="1028.5" y="237.6" width="3.7" height="2" fill="#fff" stroke="none" rx="0.5"/>
<rect x="1037.3" y="237.6" width="4.2" height="2" fill="#fff" stroke="none" rx="0.5"/>
<rect x="1027.9" y="242.4" width="12.7" height="1.7" fill="#fff" stroke="none" rx="0.4"/>
<polygon points="1059.1,194.6 1078.4,194.6 1069.9,215.8 1069.6,218.6 1051,218.6 1051,213.6" fill="#000" stroke="none"/>
<polygon points="1062.9,196.3 1075.9,196.3 1068,215 1055.5,215" fill="#fff" stroke="none"/>
<ellipse cx="1067.2" cy="202.1" rx="3.9" ry="3.3" fill="#000" stroke="none" transform="rotate(-20 1067.2 202.1)"/>
<rect x="1050" y="211.6" width="4.2" height="36.2" fill="#000" stroke="none" rx="0.8"/>
<rect x="1049.5" y="240.1" width="18.7" height="7.7" fill="#000" stroke="none" rx="1.4"/>
<rect x="1050" y="215" width="19.6" height="26.2" fill="#000" stroke="none" rx="0.8"/>
<rect x="1053.9" y="219.2" width="13.3" height="16.3" fill="#fff" stroke="none"/>
<circle cx="1061.2" cy="222.6" r="4.6" fill="#000" stroke="none"/>
<circle cx="1060.7" cy="231.2" r="4.9" fill="#000" stroke="none"/>
<rect x="1057.4" y="222.6" width="6.6" height="9" fill="#000" stroke="none"/>
<rect x="1053.6" y="237.6" width="3.7" height="2" fill="#fff" stroke="none" rx="0.5"/>
<rect x="1062.4" y="237.6" width="4.2" height="2" fill="#fff" stroke="none" rx="0.5"/>
<rect x="1053" y="242.4" width="12.7" height="1.7" fill="#fff" stroke="none" rx="0.4"/>
<polygon points="1084.2,194.6 1103.5,194.6 1095,215.8 1094.7,218.6 1076.1,218.6 1076.1,213.6" fill="#000" stroke="none"/>
<polygon points="1088,196.3 1101,196.3 1093.1,215 1080.6,215" fill="#fff" stroke="none"/>
<ellipse cx="1092.3" cy="202.1" rx="3.9" ry="3.3" fill="#000" stroke="none" transform="rotate(-20 1092.3 202.1)"/>
<rect x="1075.1" y="211.6" width="4.2" height="36.2" fill="#000" stroke="none" rx="0.8"/>
<rect x="1074.6" y="240.1" width="18.7" height="7.7" fill="#000" stroke="none" rx="1.4"/>
<rect x="1075.1" y="215" width="19.6" height="26.2" fill="#000" stroke="none" rx="0.8"/>
<rect x="1079" y="219.2" width="13.3" height="16.3" fill="#fff" stroke="none"/>
<circle cx="1086.3" cy="222.6" r="4.6" fill="#000" stroke="none"/>
<circle cx="1085.8" cy="231.2" r="4.9" fill="#000" stroke="none"/>
<rect x="1082.5" y="222.6" width="6.6" height="9" fill="#000" stroke="none"/>
<rect x="1078.7" y="237.6" width="3.7" height="2" fill="#fff" stroke="none" rx="0.5"/>
<rect x="1087.5" y="237.6" width="4.2" height="2" fill="#fff" stroke="none" rx="0.5"/>
<rect x="1078.1" y="242.4" width="12.7" height="1.7" fill="#fff" stroke="none" rx="0.4"/>
<polygon points="1109.3,194.6 1128.6,194.6 1120.1,215.8 1119.8,218.6 1101.2,218.6 1101.2,213.6" fill="#000" stroke="none"/>
<polygon points="1113.1,196.3 1126.1,196.3 1118.2,215 1105.7,215" fill="#fff" stroke="none"/>
<ellipse cx="1117.4" cy="202.1" rx="3.9" ry="3.3" fill="#000" stroke="none" transform="rotate(-20 1117.4 202.1)"/>
<rect x="1100.2" y="211.6" width="4.2" height="36.2" fill="#000" stroke="none" rx="0.8"/>
<rect x="1099.7" y="240.1" width="18.7" height="7.7" fill="#000" stroke="none" rx="1.4"/>
<rect x="1100.2" y="215" width="19.6" height="26.2" fill="#000" stroke="none" rx="0.8"/>
<rect x="1104.1" y="219.2" width="13.3" height="16.3" fill="#fff" stroke="none"/>
<circle cx="1111.4" cy="222.6" r="4.6" fill="#000" stroke="none"/>
<circle cx="1110.9" cy="231.2" r="4.9" fill="#000" stroke="none"/>
<rect x="1107.6" y="222.6" width="6.6" height="9" fill="#000" stroke="none"/>
<rect x="1103.8" y="237.6" width="3.7" height="2" fill="#fff" stroke="none" rx="0.5"/>
<rect x="1112.6" y="237.6" width="4.2" height="2" fill="#fff" stroke="none" rx="0.5"/>
<rect x="1103.2" y="242.4" width="12.7" height="1.7" fill="#fff" stroke="none" rx="0.4"/>
<text x="1049.5" y="185.2" font-size="16.4" textLength="14.4" lengthAdjust="spacingAndGlyphs" transform="rotate(-90 1049.5 185.2)" stroke="#000" stroke-width="0.4">L1</text>
<text x="1075" y="185.6" font-size="16.4" textLength="15.2" lengthAdjust="spacingAndGlyphs" transform="rotate(-90 1075 185.6)" stroke="#000" stroke-width="0.4">L2</text>
<text x="1100" y="185.6" font-size="16.4" textLength="15.2" lengthAdjust="spacingAndGlyphs" transform="rotate(-90 1100 185.6)" stroke="#000" stroke-width="0.4">L3</text>
<text x="1124.8" y="182.8" font-size="16.4" textLength="9.6" lengthAdjust="spacingAndGlyphs" transform="rotate(-90 1124.8 182.8)" stroke="#000" stroke-width="0.4">N</text>
<rect x="1016.9" y="328.2" width="108.1" height="71.4" fill="none" stroke-width="3"/>
<line x1="1017.6" y1="328.2" x2="1017.6" y2="399.6" stroke-width="4.2"/>
<polygon points="1034,328.8 1053.3,328.8 1044.8,350 1044.5,352.8 1025.9,352.8 1025.9,347.8" fill="#000" stroke="none"/>
<polygon points="1037.8,330.5 1050.8,330.5 1042.9,349.2 1030.4,349.2" fill="#fff" stroke="none"/>
<ellipse cx="1042.1" cy="336.3" rx="3.9" ry="3.3" fill="#000" stroke="none" transform="rotate(-20 1042.1 336.3)"/>
<rect x="1024.9" y="345.8" width="4.2" height="36.2" fill="#000" stroke="none" rx="0.8"/>
<rect x="1024.4" y="374.3" width="18.7" height="7.7" fill="#000" stroke="none" rx="1.4"/>
<rect x="1024.9" y="349.2" width="19.6" height="26.2" fill="#000" stroke="none" rx="0.8"/>
<rect x="1028.8" y="353.4" width="13.3" height="16.3" fill="#fff" stroke="none"/>
<circle cx="1036.1" cy="356.8" r="4.6" fill="#000" stroke="none"/>
<circle cx="1035.6" cy="365.4" r="4.9" fill="#000" stroke="none"/>
<rect x="1032.3" y="356.8" width="6.6" height="9" fill="#000" stroke="none"/>
<rect x="1028.5" y="371.8" width="3.7" height="2" fill="#fff" stroke="none" rx="0.5"/>
<rect x="1037.3" y="371.8" width="4.2" height="2" fill="#fff" stroke="none" rx="0.5"/>
<rect x="1027.9" y="376.6" width="12.7" height="1.7" fill="#fff" stroke="none" rx="0.4"/>
<polygon points="1059.1,328.8 1078.4,328.8 1069.9,350 1069.6,352.8 1051,352.8 1051,347.8" fill="#000" stroke="none"/>
<polygon points="1062.9,330.5 1075.9,330.5 1068,349.2 1055.5,349.2" fill="#fff" stroke="none"/>
<ellipse cx="1067.2" cy="336.3" rx="3.9" ry="3.3" fill="#000" stroke="none" transform="rotate(-20 1067.2 336.3)"/>
<rect x="1050" y="345.8" width="4.2" height="36.2" fill="#000" stroke="none" rx="0.8"/>
<rect x="1049.5" y="374.3" width="18.7" height="7.7" fill="#000" stroke="none" rx="1.4"/>
<rect x="1050" y="349.2" width="19.6" height="26.2" fill="#000" stroke="none" rx="0.8"/>
<rect x="1053.9" y="353.4" width="13.3" height="16.3" fill="#fff" stroke="none"/>
<circle cx="1061.2" cy="356.8" r="4.6" fill="#000" stroke="none"/>
<circle cx="1060.7" cy="365.4" r="4.9" fill="#000" stroke="none"/>
<rect x="1057.4" y="356.8" width="6.6" height="9" fill="#000" stroke="none"/>
<rect x="1053.6" y="371.8" width="3.7" height="2" fill="#fff" stroke="none" rx="0.5"/>
<rect x="1062.4" y="371.8" width="4.2" height="2" fill="#fff" stroke="none" rx="0.5"/>
<rect x="1053" y="376.6" width="12.7" height="1.7" fill="#fff" stroke="none" rx="0.4"/>
<polygon points="1084.2,328.8 1103.5,328.8 1095,350 1094.7,352.8 1076.1,352.8 1076.1,347.8" fill="#000" stroke="none"/>
<polygon points="1088,330.5 1101,330.5 1093.1,349.2 1080.6,349.2" fill="#fff" stroke="none"/>
<ellipse cx="1092.3" cy="336.3" rx="3.9" ry="3.3" fill="#000" stroke="none" transform="rotate(-20 1092.3 336.3)"/>
<rect x="1075.1" y="345.8" width="4.2" height="36.2" fill="#000" stroke="none" rx="0.8"/>
<rect x="1074.6" y="374.3" width="18.7" height="7.7" fill="#000" stroke="none" rx="1.4"/>
<rect x="1075.1" y="349.2" width="19.6" height="26.2" fill="#000" stroke="none" rx="0.8"/>
<rect x="1079" y="353.4" width="13.3" height="16.3" fill="#fff" stroke="none"/>
<circle cx="1086.3" cy="356.8" r="4.6" fill="#000" stroke="none"/>
<circle cx="1085.8" cy="365.4" r="4.9" fill="#000" stroke="none"/>
<rect x="1082.5" y="356.8" width="6.6" height="9" fill="#000" stroke="none"/>
<rect x="1078.7" y="371.8" width="3.7" height="2" fill="#fff" stroke="none" rx="0.5"/>
<rect x="1087.5" y="371.8" width="4.2" height="2" fill="#fff" stroke="none" rx="0.5"/>
<rect x="1078.1" y="376.6" width="12.7" height="1.7" fill="#fff" stroke="none" rx="0.4"/>
<polygon points="1109.3,328.8 1128.6,328.8 1120.1,350 1119.8,352.8 1101.2,352.8 1101.2,347.8" fill="#000" stroke="none"/>
<polygon points="1113.1,330.5 1126.1,330.5 1118.2,349.2 1105.7,349.2" fill="#fff" stroke="none"/>
<ellipse cx="1117.4" cy="336.3" rx="3.9" ry="3.3" fill="#000" stroke="none" transform="rotate(-20 1117.4 336.3)"/>
<rect x="1100.2" y="345.8" width="4.2" height="36.2" fill="#000" stroke="none" rx="0.8"/>
<rect x="1099.7" y="374.3" width="18.7" height="7.7" fill="#000" stroke="none" rx="1.4"/>
<rect x="1100.2" y="349.2" width="19.6" height="26.2" fill="#000" stroke="none" rx="0.8"/>
<rect x="1104.1" y="353.4" width="13.3" height="16.3" fill="#fff" stroke="none"/>
<circle cx="1111.4" cy="356.8" r="4.6" fill="#000" stroke="none"/>
<circle cx="1110.9" cy="365.4" r="4.9" fill="#000" stroke="none"/>
<rect x="1107.6" y="356.8" width="6.6" height="9" fill="#000" stroke="none"/>
<rect x="1103.8" y="371.8" width="3.7" height="2" fill="#fff" stroke="none" rx="0.5"/>
<rect x="1112.6" y="371.8" width="4.2" height="2" fill="#fff" stroke="none" rx="0.5"/>
<rect x="1103.2" y="376.6" width="12.7" height="1.7" fill="#fff" stroke="none" rx="0.4"/>
<text x="1049.5" y="319.6" font-size="16.4" textLength="28.8" lengthAdjust="spacingAndGlyphs" transform="rotate(-90 1049.5 319.6)" stroke="#000" stroke-width="0.4">L1-2</text>
<text x="1075" y="319.8" font-size="16.4" textLength="29.2" lengthAdjust="spacingAndGlyphs" transform="rotate(-90 1075 319.8)" stroke="#000" stroke-width="0.4">L2-2</text>
<text x="1100" y="319.8" font-size="16.4" textLength="29.2" lengthAdjust="spacingAndGlyphs" transform="rotate(-90 1100 319.8)" stroke="#000" stroke-width="0.4">L3-2</text>
<text x="1124.8" y="310" font-size="16.4" textLength="9.6" lengthAdjust="spacingAndGlyphs" transform="rotate(-90 1124.8 310)" stroke="#000" stroke-width="0.4">N</text>
<rect x="1016.9" y="462.6" width="108.1" height="71.4" fill="none" stroke-width="3"/>
<line x1="1017.6" y1="462.6" x2="1017.6" y2="534" stroke-width="4.2"/>
<polygon points="1059.1,463.2 1078.4,463.2 1069.9,484.4 1069.6,487.2 1051,487.2 1051,482.2" fill="#000" stroke="none"/>
<polygon points="1062.9,464.9 1075.9,464.9 1068,483.6 1055.5,483.6" fill="#fff" stroke="none"/>
<ellipse cx="1067.2" cy="470.7" rx="3.9" ry="3.3" fill="#000" stroke="none" transform="rotate(-20 1067.2 470.7)"/>
<rect x="1050" y="480.2" width="4.2" height="36.2" fill="#000" stroke="none" rx="0.8"/>
<rect x="1049.5" y="508.7" width="18.7" height="7.7" fill="#000" stroke="none" rx="1.4"/>
<rect x="1050" y="483.6" width="19.6" height="26.2" fill="#000" stroke="none" rx="0.8"/>
<rect x="1053.9" y="487.8" width="13.3" height="16.3" fill="#fff" stroke="none"/>
<circle cx="1061.2" cy="491.2" r="4.6" fill="#000" stroke="none"/>
<circle cx="1060.7" cy="499.8" r="4.9" fill="#000" stroke="none"/>
<rect x="1057.4" y="491.2" width="6.6" height="9" fill="#000" stroke="none"/>
<rect x="1053.6" y="506.2" width="3.7" height="2" fill="#fff" stroke="none" rx="0.5"/>
<rect x="1062.4" y="506.2" width="4.2" height="2" fill="#fff" stroke="none" rx="0.5"/>
<rect x="1053" y="511" width="12.7" height="1.7" fill="#fff" stroke="none" rx="0.4"/>
<polygon points="1084.2,463.2 1103.5,463.2 1095,484.4 1094.7,487.2 1076.1,487.2 1076.1,482.2" fill="#000" stroke="none"/>
<polygon points="1088,464.9 1101,464.9 1093.1,483.6 1080.6,483.6" fill="#fff" stroke="none"/>
<ellipse cx="1092.3" cy="470.7" rx="3.9" ry="3.3" fill="#000" stroke="none" transform="rotate(-20 1092.3 470.7)"/>
<rect x="1075.1" y="480.2" width="4.2" height="36.2" fill="#000" stroke="none" rx="0.8"/>
<rect x="1074.6" y="508.7" width="18.7" height="7.7" fill="#000" stroke="none" rx="1.4"/>
<rect x="1075.1" y="483.6" width="19.6" height="26.2" fill="#000" stroke="none" rx="0.8"/>
<rect x="1079" y="487.8" width="13.3" height="16.3" fill="#fff" stroke="none"/>
<circle cx="1086.3" cy="491.2" r="4.6" fill="#000" stroke="none"/>
<circle cx="1085.8" cy="499.8" r="4.9" fill="#000" stroke="none"/>
<rect x="1082.5" y="491.2" width="6.6" height="9" fill="#000" stroke="none"/>
<rect x="1078.7" y="506.2" width="3.7" height="2" fill="#fff" stroke="none" rx="0.5"/>
<rect x="1087.5" y="506.2" width="4.2" height="2" fill="#fff" stroke="none" rx="0.5"/>
<rect x="1078.1" y="511" width="12.7" height="1.7" fill="#fff" stroke="none" rx="0.4"/>
<polygon points="1109.3,463.2 1128.6,463.2 1120.1,484.4 1119.8,487.2 1101.2,487.2 1101.2,482.2" fill="#000" stroke="none"/>
<polygon points="1113.1,464.9 1126.1,464.9 1118.2,483.6 1105.7,483.6" fill="#fff" stroke="none"/>
<ellipse cx="1117.4" cy="470.7" rx="3.9" ry="3.3" fill="#000" stroke="none" transform="rotate(-20 1117.4 470.7)"/>
<rect x="1100.2" y="480.2" width="4.2" height="36.2" fill="#000" stroke="none" rx="0.8"/>
<rect x="1099.7" y="508.7" width="18.7" height="7.7" fill="#000" stroke="none" rx="1.4"/>
<rect x="1100.2" y="483.6" width="19.6" height="26.2" fill="#000" stroke="none" rx="0.8"/>
<rect x="1104.1" y="487.8" width="13.3" height="16.3" fill="#fff" stroke="none"/>
<circle cx="1111.4" cy="491.2" r="4.6" fill="#000" stroke="none"/>
<circle cx="1110.9" cy="499.8" r="4.9" fill="#000" stroke="none"/>
<rect x="1107.6" y="491.2" width="6.6" height="9" fill="#000" stroke="none"/>
<rect x="1103.8" y="506.2" width="3.7" height="2" fill="#fff" stroke="none" rx="0.5"/>
<rect x="1112.6" y="506.2" width="4.2" height="2" fill="#fff" stroke="none" rx="0.5"/>
<rect x="1103.2" y="511" width="12.7" height="1.7" fill="#fff" stroke="none" rx="0.4"/>
<text x="1075" y="454.1" font-size="16.4" textLength="28.6" lengthAdjust="spacingAndGlyphs" transform="rotate(-90 1075 454.1)" stroke="#000" stroke-width="0.4">L1-1</text>
<text x="1100" y="454.3" font-size="16.4" textLength="29" lengthAdjust="spacingAndGlyphs" transform="rotate(-90 1100 454.3)" stroke="#000" stroke-width="0.4">L2-1</text>
<text x="1124.8" y="454.3" font-size="16.4" textLength="29" lengthAdjust="spacingAndGlyphs" transform="rotate(-90 1124.8 454.3)" stroke="#000" stroke-width="0.4">L3-1</text>
<rect x="1016.9" y="596.8" width="108.1" height="71.4" fill="none" stroke-width="3"/>
<line x1="1017.6" y1="596.8" x2="1017.6" y2="668.2" stroke-width="4.2"/>
<polygon points="1084.2,597.4 1103.5,597.4 1095,618.6 1094.7,621.4 1076.1,621.4 1076.1,616.4" fill="#000" stroke="none"/>
<polygon points="1088,599.1 1101,599.1 1093.1,617.8 1080.6,617.8" fill="#fff" stroke="none"/>
<ellipse cx="1092.3" cy="604.9" rx="3.9" ry="3.3" fill="#000" stroke="none" transform="rotate(-20 1092.3 604.9)"/>
<rect x="1075.1" y="614.4" width="4.2" height="36.2" fill="#000" stroke="none" rx="0.8"/>
<rect x="1074.6" y="642.9" width="18.7" height="7.7" fill="#000" stroke="none" rx="1.4"/>
<rect x="1075.1" y="617.8" width="19.6" height="26.2" fill="#000" stroke="none" rx="0.8"/>
<rect x="1079" y="622" width="13.3" height="16.3" fill="#fff" stroke="none"/>
<circle cx="1086.3" cy="625.4" r="4.6" fill="#000" stroke="none"/>
<circle cx="1085.8" cy="634" r="4.9" fill="#000" stroke="none"/>
<rect x="1082.5" y="625.4" width="6.6" height="9" fill="#000" stroke="none"/>
<rect x="1078.7" y="640.4" width="3.7" height="2" fill="#fff" stroke="none" rx="0.5"/>
<rect x="1087.5" y="640.4" width="4.2" height="2" fill="#fff" stroke="none" rx="0.5"/>
<rect x="1078.1" y="645.2" width="12.7" height="1.7" fill="#fff" stroke="none" rx="0.4"/>
<polygon points="1109.3,597.4 1128.6,597.4 1120.1,618.6 1119.8,621.4 1101.2,621.4 1101.2,616.4" fill="#000" stroke="none"/>
<polygon points="1113.1,599.1 1126.1,599.1 1118.2,617.8 1105.7,617.8" fill="#fff" stroke="none"/>
<ellipse cx="1117.4" cy="604.9" rx="3.9" ry="3.3" fill="#000" stroke="none" transform="rotate(-20 1117.4 604.9)"/>
<rect x="1100.2" y="614.4" width="4.2" height="36.2" fill="#000" stroke="none" rx="0.8"/>
<rect x="1099.7" y="642.9" width="18.7" height="7.7" fill="#000" stroke="none" rx="1.4"/>
<rect x="1100.2" y="617.8" width="19.6" height="26.2" fill="#000" stroke="none" rx="0.8"/>
<rect x="1104.1" y="622" width="13.3" height="16.3" fill="#fff" stroke="none"/>
<circle cx="1111.4" cy="625.4" r="4.6" fill="#000" stroke="none"/>
<circle cx="1110.9" cy="634" r="4.9" fill="#000" stroke="none"/>
<rect x="1107.6" y="625.4" width="6.6" height="9" fill="#000" stroke="none"/>
<rect x="1103.8" y="640.4" width="3.7" height="2" fill="#fff" stroke="none" rx="0.5"/>
<rect x="1112.6" y="640.4" width="4.2" height="2" fill="#fff" stroke="none" rx="0.5"/>
<rect x="1103.2" y="645.2" width="12.7" height="1.7" fill="#fff" stroke="none" rx="0.4"/>
<path d="M1086.9 582.5 H1099.9 M1093.4 576 V589" fill="none" stroke-width="1.6"/>
<line x1="1115.8" y1="582" x2="1122.8" y2="582" stroke-width="1.7"/>
<text y="138.2" font-size="14.8" stroke="#000" stroke-width="0.5"><tspan x="1132.6" textLength="27.4" lengthAdjust="spacingAndGlyphs">Ø12</tspan> <tspan x="1164.2" textLength="36.8" lengthAdjust="spacingAndGlyphs">(M10)</tspan></text>
<line x1="1157.4" y1="147.6" x2="1142" y2="172.8" stroke-width="1.8"/>
<polygon points="1133,187.8 1141,168.8 1145.8,171.8" fill="#000" stroke="none"/>
<text x="1138.7" y="219.2" font-size="14.6" textLength="76.3" lengthAdjust="spacingAndGlyphs" stroke="#000" stroke-width="0.5">LOAD-LAST</text>
<text x="1138.7" y="239.2" font-size="14.6" textLength="115.9" lengthAdjust="spacingAndGlyphs" stroke="#000" stroke-width="0.5">CARICO-CHARGE</text>
<text x="1138.7" y="363" font-size="14.6" textLength="51.3" lengthAdjust="spacingAndGlyphs" stroke="#000" stroke-width="0.5">BYPASS</text>
<text y="495.2" font-size="14.6" stroke="#000" stroke-width="0.5"><tspan x="1138.7" textLength="42.5" lengthAdjust="spacingAndGlyphs">RECT.-</tspan> <tspan x="1185.4" textLength="19.2" lengthAdjust="spacingAndGlyphs">GR</tspan></text>
<text y="515.5" font-size="14.6" stroke="#000" stroke-width="0.5"><tspan x="1138.7" textLength="55.9" lengthAdjust="spacingAndGlyphs">RADDR.-</tspan> <tspan x="1199.6" textLength="37.8" lengthAdjust="spacingAndGlyphs">REDR.</tspan></text>
<text x="1138.7" y="632" font-size="14.6" textLength="58.1" lengthAdjust="spacingAndGlyphs" stroke="#000" stroke-width="0.5">BATTERY</text>
</g>
<g id="table">
<rect x="1237.6" y="775.8" width="138.2" height="139.6" fill="none" stroke-width="2.6" rx="0.8"/>
<line x1="1297.6" y1="775.8" x2="1297.6" y2="915.4" stroke-width="2.4"/>
<line x1="1336.8" y1="775.8" x2="1336.8" y2="915.4" stroke-width="2.4"/>
<line x1="1237.6" y1="817.2" x2="1375.8" y2="817.2" stroke-width="2.5"/>
<line x1="1237.6" y1="866.2" x2="1297.6" y2="866.2" stroke-width="2.5"/>
<text x="1243.7" y="795.5" font-size="10.6" textLength="41" lengthAdjust="spacingAndGlyphs" stroke="#000" stroke-width="0.4">BATTERY</text>
<text x="1264.2" y="808.7" font-size="10.6" text-anchor="middle" textLength="17.6" lengthAdjust="spacingAndGlyphs" stroke="#000" stroke-width="0.4">mm</text>
<text x="1316.8" y="801.8" font-size="15.2" text-anchor="middle" textLength="9.6" lengthAdjust="spacingAndGlyphs" stroke="#000" stroke-width="0.5">A</text>
<text x="1355.8" y="801.8" font-size="15.2" text-anchor="middle" textLength="8.8" lengthAdjust="spacingAndGlyphs" stroke="#000" stroke-width="0.5">B</text>
<text x="1268" y="846" font-size="11.6" text-anchor="middle" textLength="18.4" lengthAdjust="spacingAndGlyphs" stroke="#000" stroke-width="0.5">850</text>
<text x="1268" y="894.9" font-size="11.6" text-anchor="middle" textLength="23.6" lengthAdjust="spacingAndGlyphs" stroke="#000" stroke-width="0.5">1500</text>
<text x="1321.6" y="894.2" font-size="11.6" textLength="58" lengthAdjust="spacingAndGlyphs" transform="rotate(-90 1321.6 894.2)" stroke="#000" stroke-width="0.5">n x BATTERY</text>
<text x="1360.8" y="901.4" font-size="11.6" textLength="69.6" lengthAdjust="spacingAndGlyphs" transform="rotate(-90 1360.8 901.4)" stroke="#000" stroke-width="0.5">= A+1185+500</text>
<text y="833.1" font-size="13.6" stroke="#000" stroke-width="0.5"><tspan x="836.3" textLength="38.9" lengthAdjust="spacingAndGlyphs">CABLE</tspan> <tspan x="879.2" textLength="42.6" lengthAdjust="spacingAndGlyphs">ENTRY:</tspan> <tspan x="925.4" textLength="51.8" lengthAdjust="spacingAndGlyphs">BOTTOM</tspan> <tspan x="981.5" textLength="12.4" lengthAdjust="spacingAndGlyphs">or</tspan> <tspan x="997.6" textLength="24.2" lengthAdjust="spacingAndGlyphs">TOP</tspan></text>
<text y="850.8" font-size="13.6" stroke="#000" stroke-width="0.5"><tspan x="835.6" textLength="132.6" lengthAdjust="spacingAndGlyphs">KABELEINFUEHRUNG:</tspan> <tspan x="971.8" textLength="26.6" lengthAdjust="spacingAndGlyphs">VON</tspan> <tspan x="1003.5" textLength="41" lengthAdjust="spacingAndGlyphs">UNTEN</tspan> <tspan x="1050.1" textLength="31.8" lengthAdjust="spacingAndGlyphs">order</tspan> <tspan x="1086.3" textLength="34.2" lengthAdjust="spacingAndGlyphs">OBEN</tspan></text>
<text y="868.4" font-size="13.6" stroke="#000" stroke-width="0.5"><tspan x="835.6" textLength="55.2" lengthAdjust="spacingAndGlyphs">ENTRATA</tspan> <tspan x="894.7" textLength="31.1" lengthAdjust="spacingAndGlyphs">CAVI:</tspan> <tspan x="930" textLength="24.2" lengthAdjust="spacingAndGlyphs">DAL</tspan> <tspan x="958.3" textLength="40.1" lengthAdjust="spacingAndGlyphs">BASSO</tspan> <tspan x="1002.7" textLength="7.3" lengthAdjust="spacingAndGlyphs">o</tspan> <tspan x="1014" textLength="32.7" lengthAdjust="spacingAndGlyphs">DALL'</tspan> <tspan x="1050.4" textLength="31.5" lengthAdjust="spacingAndGlyphs">ALTO</tspan></text>
<text y="886.3" font-size="13.6" stroke="#000" stroke-width="0.5"><tspan x="835.6" textLength="94.6" lengthAdjust="spacingAndGlyphs">INTRODUCTION</tspan> <tspan x="934.7" textLength="49.7" lengthAdjust="spacingAndGlyphs">CABLES:</tspan> <tspan x="989.1" textLength="23.5" lengthAdjust="spacingAndGlyphs">PAR</tspan> <tspan x="1016.7" textLength="56" lengthAdjust="spacingAndGlyphs">DESSOUS</tspan> <tspan x="1077.5" textLength="14.3" lengthAdjust="spacingAndGlyphs">ou</tspan> <tspan x="1096.6" textLength="23.4" lengthAdjust="spacingAndGlyphs">PAR</tspan> <tspan x="1124.5" textLength="46.9" lengthAdjust="spacingAndGlyphs">DESSUS</tspan></text>
</g>
</svg>
</body>
</html>
